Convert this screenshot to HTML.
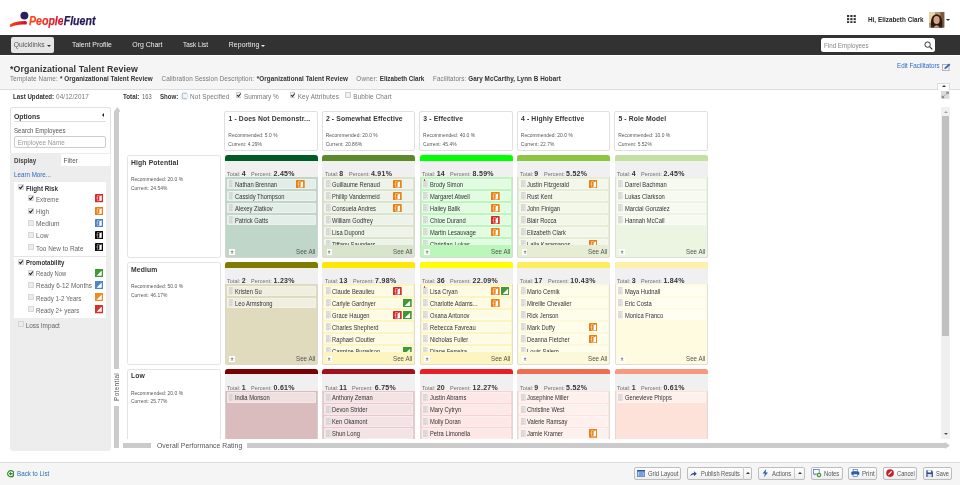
<!DOCTYPE html><html><head><meta charset="utf-8"><title>Organizational Talent Review</title><style>*{box-sizing:border-box;margin:0;padding:0}
html,body{width:960px;height:485px;overflow:hidden;background:#fff;font-family:"Liberation Sans",Arial,sans-serif;color:#333;position:relative}
.b,.t,.cell,.clip,.cbx,.ocb{position:absolute}
.t{white-space:nowrap}
.clip{overflow:hidden}
.cell{overflow:hidden;border-radius:3px;box-shadow:inset 0.7px 0 0 #d6d6d6,inset -0.7px 0 0 #d6d6d6,inset 0 -0.7px 0 #d6d6d6}
.cbx{width:5.8px;height:5.8px;border:0.7px solid #b5b5b5;background:#f4f4f4;border-radius:1px}
.cbx.on::after,.ocb.on::after{content:"";position:absolute;left:1.4px;top:-0.2px;width:1.7px;height:3.4px;border:solid #222;border-width:0 1px 1px 0;transform:rotate(40deg)}
.ocb{width:5.3px;height:5.6px;border:0.7px solid #c2c2c2;background:#eeeeee;border-radius:1px}
</style></head><body><svg class="b" style="left:9px;top:10px" width="20" height="19" viewBox="0 0 20 19">
  <defs><linearGradient id="sw" x1="0" x2="1"><stop offset="0" stop-color="#ff4a0c"/><stop offset="1" stop-color="#d2062e"/></linearGradient></defs>
  <circle cx="15.4" cy="5.6" r="3.95" fill="#2a1f5c"/>
  <path d="M1.3 14.2 C5 12 10 11 16.6 11 C18.3 11 18.3 14.6 16.8 14.6 C11 14 6 15 1.6 17 C0.6 17.2 0.5 14.8 1.3 14.2Z" fill="url(#sw)"/>
 </svg>
<div class="b" style="left:29.3px;top:14.7px;font-size:12.3px;font-weight:bold;font-style:italic;white-space:nowrap;line-height:12.3px;transform:scaleX(0.86);transform-origin:0 0;-webkit-text-stroke:0.25px currentColor"><span style="background:linear-gradient(90deg,#ff4a10,#d40c36);-webkit-background-clip:text;background-clip:text;color:transparent;-webkit-text-stroke:0.25px transparent">People</span><span style="color:#231a5a">Fluent</span></div>
<svg class="b" style="left:847px;top:14.8px" width="9" height="8.5" viewBox="0 0 9 8.5"><g fill="#333"><rect x="0.0" y="0.0" width="2.2" height="2.1"/><rect x="3.3" y="0.0" width="2.2" height="2.1"/><rect x="6.6" y="0.0" width="2.2" height="2.1"/><rect x="0.0" y="3.1" width="2.2" height="2.1"/><rect x="3.3" y="3.1" width="2.2" height="2.1"/><rect x="6.6" y="3.1" width="2.2" height="2.1"/><rect x="0.0" y="6.2" width="2.2" height="2.1"/><rect x="3.3" y="6.2" width="2.2" height="2.1"/><rect x="6.6" y="6.2" width="2.2" height="2.1"/></g></svg>
<div class="t" style="left:867.60px;top:15.87px;font-size:7.0px;line-height:7.0px;color:#2a2a2a;font-weight:bold;transform:scaleX(0.910);transform-origin:0 0;">Hi, Elizabeth Clark</div>
<svg class="b" style="left:929.3px;top:12.1px" width="15.3" height="15.5" viewBox="0 0 15.3 15.5">
  <rect width="15.3" height="15.5" fill="#b89572"/>
  <rect x="0" y="0" width="6" height="11" fill="#e6d2aa"/>
  <rect x="11.3" y="0" width="4" height="15.5" fill="#7a5b45"/>
  <path d="M2.2 15.5 C1.2 10 2 2.6 7.6 2.3 C13.2 2.6 14 10 13 15.5Z" fill="#2a1a12"/>
  <ellipse cx="7.6" cy="8" rx="3.1" ry="3.9" fill="#d3a289"/>
  <path d="M4.6 15.5 Q7.6 10.8 10.6 15.5Z" fill="#d09c86"/>
  <path d="M1 15.5 Q2.4 13.4 4.4 13.8 L5 15.5Z M10.2 15.5 L10.8 13.8 Q12.8 13.4 14.2 15.5Z" fill="#2a3040"/>
 </svg>
<div class="b" style="left:946px;top:19px;width:0px;height:0px;border-left:2px solid transparent;border-right:2px solid transparent;border-top:2.2px solid #333"></div>
<div class="b" style="left:0px;top:35px;width:960px;height:19.6px;background:#323232"></div>
<div class="b" style="left:11px;top:37px;width:43.4px;height:16px;background:#e6e6e6;border-radius:2px"></div>
<div class="t" style="left:13.70px;top:42.23px;font-size:6.7px;line-height:6.7px;color:#555;letter-spacing:0.052px;">Quicklinks</div>
<div class="b" style="left:46.6px;top:44.6px;width:0px;height:0px;border-left:2px solid transparent;border-right:2px solid transparent;border-top:2.2px solid #333"></div>
<div class="t" style="left:72.00px;top:42.06px;font-size:6.9px;line-height:6.9px;color:#eee;letter-spacing:0.009px;">Talent Profile</div>
<div class="t" style="left:132.30px;top:42.06px;font-size:6.9px;line-height:6.9px;color:#eee;letter-spacing:-0.012px;">Org Chart</div>
<div class="t" style="left:183.30px;top:42.06px;font-size:6.9px;line-height:6.9px;color:#eee;transform:scaleX(0.931);transform-origin:0 0;">Task List</div>
<div class="t" style="left:228.80px;top:42.06px;font-size:6.9px;line-height:6.9px;color:#eee;letter-spacing:0.085px;">Reporting</div>
<div class="b" style="left:260.6px;top:44.6px;width:0px;height:0px;border-left:2px solid transparent;border-right:2px solid transparent;border-top:2.2px solid #eee"></div>
<div class="b" style="left:820.8px;top:37.8px;width:113.9px;height:13.9px;background:#fff;border-radius:2.5px"></div>
<div class="t" style="left:824.20px;top:42.58px;font-size:6.4px;line-height:6.4px;color:#888;transform:scaleX(0.972);transform-origin:0 0;">Find Employees</div>
<svg class="b" style="left:924px;top:40.6px" width="9" height="9" viewBox="0 0 9 9"><circle cx="3.6" cy="3.6" r="2.7" fill="none" stroke="#333" stroke-width="1"/><path d="M5.6 5.6 L8.3 8.3" stroke="#333" stroke-width="1.2"/></svg>
<div class="b" style="left:0px;top:55.6px;width:960px;height:34.4px;background:#f5f5f5;border-bottom:1px solid #dcdcdc"></div>
<div class="t" style="left:10.00px;top:64.55px;font-size:8.8px;line-height:8.8px;color:#333;font-weight:bold;letter-spacing:0.106px;">*Organizational Talent Review</div>
<div class="t" style="left:10.00px;top:76.07px;font-size:6.3px;line-height:6.3px;color:#777;letter-spacing:0.141px;">Template Name:</div>
<div class="t" style="left:60.00px;top:76.07px;font-size:6.3px;line-height:6.3px;color:#333;font-weight:bold;letter-spacing:0.050px;">* Organizational Talent Review</div>
<div class="t" style="left:161.50px;top:76.07px;font-size:6.3px;line-height:6.3px;color:#777;letter-spacing:0.107px;">Calibration Session Description:</div>
<div class="t" style="left:256.80px;top:76.07px;font-size:6.3px;line-height:6.3px;color:#333;font-weight:bold;letter-spacing:0.057px;">*Organizational Talent Review</div>
<div class="t" style="left:356.30px;top:76.07px;font-size:6.3px;line-height:6.3px;color:#777;letter-spacing:0.199px;">Owner:</div>
<div class="t" style="left:379.80px;top:76.07px;font-size:6.3px;line-height:6.3px;color:#333;font-weight:bold;letter-spacing:-0.047px;">Elizabeth Clark</div>
<div class="t" style="left:433.00px;top:76.07px;font-size:6.3px;line-height:6.3px;color:#777;letter-spacing:0.091px;">Facilitators:</div>
<div class="t" style="left:468.20px;top:76.07px;font-size:6.3px;line-height:6.3px;color:#333;font-weight:bold;letter-spacing:0.062px;">Gary McCarthy, Lynn B Hobart</div>
<div class="t" style="left:897.30px;top:63.48px;font-size:6.4px;line-height:6.4px;color:#2a6cc8;transform:scaleX(0.976);transform-origin:0 0;">Edit Facilitators</div>
<svg class="b" style="left:942.3px;top:62.8px" width="9" height="8.2" viewBox="0 0 9 8.2"><rect x="0.45" y="1.5" width="6.6" height="6.2" fill="none" stroke="#a0a0a0" stroke-width="0.8"/><path d="M2.3 6.1 L2.8 4.5 L7 0.4 L8.4 1.7 L4.1 5.7Z" fill="#2c66d2"/></svg>
<div class="b" style="left:937.4px;top:83px;width:13px;height:6.6px;background:#fff;border:0.7px solid #ddd;border-bottom:none"></div>
<div class="b" style="left:941.8px;top:84.8px;width:0px;height:0px;border-left:2.2px solid transparent;border-right:2.2px solid transparent;border-bottom:2.6px solid #333"></div>
<svg class="b" style="left:941.4px;top:91.1px" width="8.4" height="7.9" viewBox="0 0 8.4 7.9"><rect width="8.4" height="7.9" fill="#dcdcdc"/><path d="M1.2 6.7L3.4 4.5M1.2 6.7V4.7M1.2 6.7H3.2M7.2 1.2L5 3.4M7.2 1.2V3.2M7.2 1.2H5.2" stroke="#777" stroke-width="0.9" fill="none"/></svg>
<div class="t" style="left:12.70px;top:94.08px;font-size:6.4px;line-height:6.4px;color:#333;font-weight:bold;transform:scaleX(0.966);transform-origin:0 0;">Last Updated:</div>
<div class="t" style="left:56.00px;top:94.08px;font-size:6.4px;line-height:6.4px;color:#777;letter-spacing:0.085px;">04/12/2017</div>
<div class="t" style="left:123.00px;top:94.08px;font-size:6.4px;line-height:6.4px;color:#333;font-weight:bold;transform:scaleX(0.968);transform-origin:0 0;">Total:</div>
<div class="t" style="left:142.10px;top:94.08px;font-size:6.4px;line-height:6.4px;color:#666;transform:scaleX(0.899);transform-origin:0 0;">163</div>
<div class="t" style="left:159.70px;top:94.08px;font-size:6.4px;line-height:6.4px;color:#333;font-weight:bold;transform:scaleX(0.953);transform-origin:0 0;">Show:</div>
<svg class="b" style="left:181.6px;top:92.7px;filter:drop-shadow(0 0 0.8px #8fb8ea);" width="5.9" height="5.9" viewBox="0 0 6 6"><rect x="0.35" y="0.35" width="5.3" height="5.3" rx="0.6" fill="#f2f2f2" stroke="#b0b0b0" stroke-width="0.7"/></svg>
<div class="t" style="left:190.00px;top:94.08px;font-size:6.4px;line-height:6.4px;color:#777;letter-spacing:0.111px;">Not Specified</div>
<svg class="b" style="left:235.6px;top:92.2px;" width="5.9" height="5.9" viewBox="0 0 6 6"><rect x="0.35" y="0.35" width="5.3" height="5.3" rx="0.6" fill="#f2f2f2" stroke="#b0b0b0" stroke-width="0.7"/><path d="M1.2 3.2 L2.5 4.6 L4.9 1.5" fill="none" stroke="#1e1e1e" stroke-width="1.05"/></svg>
<div class="t" style="left:244.00px;top:94.08px;font-size:6.4px;line-height:6.4px;color:#777;letter-spacing:-0.019px;">Summary %</div>
<svg class="b" style="left:289.6px;top:92.2px;" width="5.9" height="5.9" viewBox="0 0 6 6"><rect x="0.35" y="0.35" width="5.3" height="5.3" rx="0.6" fill="#f2f2f2" stroke="#b0b0b0" stroke-width="0.7"/><path d="M1.2 3.2 L2.5 4.6 L4.9 1.5" fill="none" stroke="#1e1e1e" stroke-width="1.05"/></svg>
<div class="t" style="left:297.70px;top:94.08px;font-size:6.4px;line-height:6.4px;color:#777;letter-spacing:0.132px;">Key Attributes</div>
<svg class="b" style="left:345.4px;top:92.2px;" width="5.9" height="5.9" viewBox="0 0 6 6"><rect x="0.35" y="0.35" width="5.3" height="5.3" rx="0.6" fill="#f2f2f2" stroke="#b0b0b0" stroke-width="0.7"/></svg>
<div class="t" style="left:353.30px;top:94.08px;font-size:6.4px;line-height:6.4px;color:#777;letter-spacing:0.095px;">Bubble Chart</div>
<div class="b" style="left:10px;top:107.3px;width:100.8px;height:344.2px;background:#ededed;border-radius:3px"></div>
<div class="b" style="left:10px;top:107.3px;width:100.8px;height:45.8px;background:#fff;border:0.7px solid #e2e2e2;border-bottom:none;border-radius:3px 3px 0 0"></div>
<div class="t" style="left:14.25px;top:113.27px;font-size:7px;line-height:7px;color:#333;font-weight:bold;transform:scaleX(0.983);transform-origin:0 0;">Options</div>
<div class="b" style="left:102.3px;top:113.3px;width:0px;height:0px;border-top:2.1px solid transparent;border-bottom:2.1px solid transparent;border-right:2.4px solid #222"></div>
<div class="b" style="left:14px;top:121.2px;width:91.6px;height:0.8px;background:#dedede"></div>
<div class="t" style="left:14.20px;top:127.97px;font-size:6.3px;line-height:6.3px;color:#555;transform:scaleX(0.974);transform-origin:0 0;">Search Employees</div>
<div class="b" style="left:14.2px;top:135.5px;width:92.2px;height:12.3px;background:#fff;border:0.7px solid #ccc;border-radius:2px"></div>
<div class="t" style="left:17.80px;top:139.57px;font-size:6.3px;line-height:6.3px;color:#999;letter-spacing:0.027px;">Employee Name</div>
<div class="t" style="left:14.10px;top:157.51px;font-size:6.6px;line-height:6.6px;color:#444;font-weight:bold;transform:scaleX(0.946);transform-origin:0 0;">Display</div>
<div class="b" style="left:60.8px;top:154px;width:49.2px;height:11.7px;background:#fff"></div>
<div class="t" style="left:63.50px;top:157.77px;font-size:6.3px;line-height:6.3px;color:#555;letter-spacing:0.060px;">Filter</div>
<div class="t" style="left:14.00px;top:172.00px;font-size:6.5px;line-height:6.5px;color:#2a6ebb;transform:scaleX(0.957);transform-origin:0 0;">Learn More...</div>
<div class="b" style="left:14.25px;top:181.6px;width:91.7px;height:74.3px;background:#fff"></div>
<div class="b" style="left:14.25px;top:255.9px;width:91.7px;height:1px;background:#e4e4e4"></div>
<div class="b" style="left:14.25px;top:256.9px;width:91.7px;height:61.2px;background:#fff"></div>
<svg class="b" style="left:18.3px;top:184.4px;" width="6.0" height="6.0" viewBox="0 0 6 6"><rect x="0.35" y="0.35" width="5.3" height="5.3" rx="0.6" fill="#ececec" stroke="#c4c4c4" stroke-width="0.7"/><path d="M1.2 3.2 L2.5 4.6 L4.9 1.5" fill="none" stroke="#1e1e1e" stroke-width="1.05"/></svg>
<div class="t" style="left:26.10px;top:185.71px;font-size:6.6px;line-height:6.6px;color:#333;font-weight:bold;transform:scaleX(0.946);transform-origin:0 0;">Flight Risk</div>
<svg class="b" style="left:18.3px;top:259.3px;" width="6.0" height="6.0" viewBox="0 0 6 6"><rect x="0.35" y="0.35" width="5.3" height="5.3" rx="0.6" fill="#ececec" stroke="#c4c4c4" stroke-width="0.7"/><path d="M1.2 3.2 L2.5 4.6 L4.9 1.5" fill="none" stroke="#1e1e1e" stroke-width="1.05"/></svg>
<div class="t" style="left:26.10px;top:259.91px;font-size:6.6px;line-height:6.6px;color:#333;font-weight:bold;transform:scaleX(0.913);transform-origin:0 0;">Promotability</div>
<svg class="b" style="left:28.3px;top:195.4px;" width="6.0" height="6.0" viewBox="0 0 6 6"><rect x="0.35" y="0.35" width="5.3" height="5.3" rx="0.6" fill="#ececec" stroke="#c4c4c4" stroke-width="0.7"/><path d="M1.2 3.2 L2.5 4.6 L4.9 1.5" fill="none" stroke="#1e1e1e" stroke-width="1.05"/></svg>
<div class="t" style="left:36.10px;top:196.76px;font-size:6.6px;line-height:6.6px;color:#666;transform:scaleX(0.928);transform-origin:0 0;">Extreme</div>
<svg class="b" style="left:94.60px;top:194.35px" width="8.3" height="8.3" viewBox="0 0 8 8"><rect width="8" height="8" rx="0.7" fill="#d8262b"/><path d="M4.5 1.4 H2.3 V6.6 H4.5" fill="none" stroke="rgba(255,255,255,0.5)" stroke-width="0.8"/><path d="M1 3.8 H3.3" stroke="rgba(255,255,255,0.5)" stroke-width="0.7"/><path d="M4.2 2.2 L6.5 1.1 V6.6 L4.2 6.8Z" fill="#fff"/></svg>
<svg class="b" style="left:28.3px;top:207.6px;" width="6.0" height="6.0" viewBox="0 0 6 6"><rect x="0.35" y="0.35" width="5.3" height="5.3" rx="0.6" fill="#ececec" stroke="#c4c4c4" stroke-width="0.7"/><path d="M1.2 3.2 L2.5 4.6 L4.9 1.5" fill="none" stroke="#1e1e1e" stroke-width="1.05"/></svg>
<div class="t" style="left:36.10px;top:208.96px;font-size:6.6px;line-height:6.6px;color:#666;transform:scaleX(0.958);transform-origin:0 0;">High</div>
<svg class="b" style="left:94.60px;top:206.55px" width="8.3" height="8.3" viewBox="0 0 8 8"><rect width="8" height="8" rx="0.7" fill="#ea7e10"/><path d="M4.5 1.4 H2.3 V6.6 H4.5" fill="none" stroke="rgba(255,255,255,0.5)" stroke-width="0.8"/><path d="M1 3.8 H3.3" stroke="rgba(255,255,255,0.5)" stroke-width="0.7"/><path d="M4.2 2.2 L6.5 1.1 V6.6 L4.2 6.8Z" fill="#fff"/></svg>
<svg class="b" style="left:28.3px;top:219.8px;" width="6.0" height="6.0" viewBox="0 0 6 6"><rect x="0.35" y="0.35" width="5.3" height="5.3" rx="0.6" fill="#ececec" stroke="#c4c4c4" stroke-width="0.7"/></svg>
<div class="t" style="left:36.10px;top:221.16px;font-size:6.6px;line-height:6.6px;color:#666;letter-spacing:0.005px;">Medium</div>
<svg class="b" style="left:94.60px;top:218.75px" width="8.3" height="8.3" viewBox="0 0 8 8"><rect width="8" height="8" rx="0.7" fill="#4a7fc1"/><path d="M4.5 1.4 H2.3 V6.6 H4.5" fill="none" stroke="rgba(255,255,255,0.5)" stroke-width="0.8"/><path d="M1 3.8 H3.3" stroke="rgba(255,255,255,0.5)" stroke-width="0.7"/><path d="M4.2 2.2 L6.5 1.1 V6.6 L4.2 6.8Z" fill="#fff"/></svg>
<svg class="b" style="left:28.3px;top:232.0px;" width="6.0" height="6.0" viewBox="0 0 6 6"><rect x="0.35" y="0.35" width="5.3" height="5.3" rx="0.6" fill="#ececec" stroke="#c4c4c4" stroke-width="0.7"/></svg>
<div class="t" style="left:36.10px;top:233.36px;font-size:6.6px;line-height:6.6px;color:#666;letter-spacing:0.196px;">Low</div>
<svg class="b" style="left:94.60px;top:230.95px" width="8.3" height="8.3" viewBox="0 0 8 8"><rect width="8" height="8" rx="0.7" fill="#0a0a0a"/><path d="M4.5 1.4 H2.3 V6.6 H4.5" fill="none" stroke="rgba(255,255,255,0.5)" stroke-width="0.8"/><path d="M1 3.8 H3.3" stroke="rgba(255,255,255,0.5)" stroke-width="0.7"/><path d="M4.2 2.2 L6.5 1.1 V6.6 L4.2 6.8Z" fill="#fff"/></svg>
<svg class="b" style="left:28.3px;top:244.20000000000002px;" width="6.0" height="6.0" viewBox="0 0 6 6"><rect x="0.35" y="0.35" width="5.3" height="5.3" rx="0.6" fill="#ececec" stroke="#c4c4c4" stroke-width="0.7"/></svg>
<div class="t" style="left:36.10px;top:245.56px;font-size:6.6px;line-height:6.6px;color:#666;transform:scaleX(0.974);transform-origin:0 0;">Too New to Rate</div>
<svg class="b" style="left:94.60px;top:243.15px" width="8.3" height="8.3" viewBox="0 0 8 8"><rect width="8" height="8" rx="0.7" fill="#0a0a0a"/><path d="M4.5 1.4 H2.3 V6.6 H4.5" fill="none" stroke="rgba(255,255,255,0.5)" stroke-width="0.8"/><path d="M1 3.8 H3.3" stroke="rgba(255,255,255,0.5)" stroke-width="0.7"/><path d="M4.2 2.2 L6.5 1.1 V6.6 L4.2 6.8Z" fill="#fff"/></svg>
<svg class="b" style="left:28.3px;top:269.84999999999997px;" width="6.0" height="6.0" viewBox="0 0 6 6"><rect x="0.35" y="0.35" width="5.3" height="5.3" rx="0.6" fill="#ececec" stroke="#c4c4c4" stroke-width="0.7"/><path d="M1.2 3.2 L2.5 4.6 L4.9 1.5" fill="none" stroke="#1e1e1e" stroke-width="1.05"/></svg>
<div class="t" style="left:36.10px;top:271.21px;font-size:6.6px;line-height:6.6px;color:#666;transform:scaleX(0.888);transform-origin:0 0;">Ready Now</div>
<svg class="b" style="left:94.60px;top:268.80px" width="8.3" height="8.3" viewBox="0 0 8 8"><rect width="8" height="8" fill="#3d9a35"/><path d="M1.5 6.5h5v-5z" fill="#fff"/></svg>
<svg class="b" style="left:28.3px;top:282.04999999999995px;" width="6.0" height="6.0" viewBox="0 0 6 6"><rect x="0.35" y="0.35" width="5.3" height="5.3" rx="0.6" fill="#ececec" stroke="#c4c4c4" stroke-width="0.7"/></svg>
<div class="t" style="left:36.10px;top:283.41px;font-size:6.6px;line-height:6.6px;color:#666;transform:scaleX(0.972);transform-origin:0 0;">Ready 6-12 Months</div>
<svg class="b" style="left:94.60px;top:281.00px" width="8.3" height="8.3" viewBox="0 0 8 8"><rect width="8" height="8" fill="#4a86c8"/><path d="M1.5 6.5h5v-5z" fill="#fff"/></svg>
<svg class="b" style="left:28.3px;top:294.24999999999994px;" width="6.0" height="6.0" viewBox="0 0 6 6"><rect x="0.35" y="0.35" width="5.3" height="5.3" rx="0.6" fill="#ececec" stroke="#c4c4c4" stroke-width="0.7"/></svg>
<div class="t" style="left:36.10px;top:295.61px;font-size:6.6px;line-height:6.6px;color:#666;transform:scaleX(0.932);transform-origin:0 0;">Ready 1-2 Years</div>
<svg class="b" style="left:94.60px;top:293.20px" width="8.3" height="8.3" viewBox="0 0 8 8"><rect width="8" height="8" fill="#ef8a1c"/><path d="M1.5 6.5h5v-5z" fill="#fff"/></svg>
<svg class="b" style="left:28.3px;top:306.44999999999993px;" width="6.0" height="6.0" viewBox="0 0 6 6"><rect x="0.35" y="0.35" width="5.3" height="5.3" rx="0.6" fill="#ececec" stroke="#c4c4c4" stroke-width="0.7"/></svg>
<div class="t" style="left:36.10px;top:307.81px;font-size:6.6px;line-height:6.6px;color:#666;transform:scaleX(0.937);transform-origin:0 0;">Ready 2+ years</div>
<svg class="b" style="left:94.60px;top:305.40px" width="8.3" height="8.3" viewBox="0 0 8 8"><rect width="8" height="8" fill="#d8302c"/><path d="M1.5 6.5h5v-5z" fill="#fff"/></svg>
<svg class="b" style="left:18.3px;top:321.4px;" width="6.0" height="6.0" viewBox="0 0 6 6"><rect x="0.35" y="0.35" width="5.3" height="5.3" rx="0.6" fill="#ececec" stroke="#c4c4c4" stroke-width="0.7"/></svg>
<div class="t" style="left:25.80px;top:322.68px;font-size:6.4px;line-height:6.4px;color:#666;letter-spacing:-0.040px;">Loss Impact</div>
<div class="b" style="left:114.4px;top:111px;width:4.8px;height:257.8px;background:#cbcbcb"></div>
<svg class="b" style="left:113.6px;top:106.8px" width="6.8" height="5" viewBox="0 0 6.8 5"><path d="M3.4 0 L6.8 4.8 L0 4.8Z" fill="#cbcbcb"/></svg>
<div class="b" style="left:114.4px;top:406.4px;width:4.8px;height:41.2px;background:#cbcbcb"></div>
<div class="t" style="left:113.6px;top:401.2px;font-size:6.5px;line-height:6.5px;color:#555;letter-spacing:0.313px;transform-origin:0 0;transform:rotate(-90deg)">Potential</div>
<div class="b" style="left:123px;top:443.2px;width:28.2px;height:4.6px;background:#cbcbcb"></div>
<div class="t" style="left:157.00px;top:442.94px;font-size:6.8px;line-height:6.8px;color:#555;letter-spacing:0.052px;">Overall Performance Rating</div>
<div class="b" style="left:247.4px;top:443.2px;width:698px;height:4.6px;background:#cbcbcb"></div>
<svg class="b" style="left:945px;top:441.9px" width="5" height="7" viewBox="0 0 5 7"><path d="M0 0 L4.9 3.5 L0 7Z" fill="#cbcbcb"/></svg>
<div class="clip" style="left:120px;top:100px;width:820px;height:338.6px"><div class="b" style="left:-120px;top:-100px;width:960px;height:485px"><div class="b" style="left:224.29999999999998px;top:111.4px;width:93.60000000000001px;height:39.5px;background:#fff;border:0.7px solid #e0e0e0;border-radius:2px"></div><div class="t" style="left:228.50px;top:115.84px;font-size:6.8px;line-height:6.8px;color:#333;font-weight:bold;letter-spacing:0.130px;">1 - Does Not Demonstr...</div><div class="t" style="left:228.30px;top:134.15px;font-size:4.9px;line-height:4.9px;color:#555;letter-spacing:0.050px;">Recommended: 5.0 %</div><div class="t" style="left:228.30px;top:143.05px;font-size:4.9px;line-height:4.9px;color:#555;letter-spacing:0.050px;">Current: 4.29%</div><div class="b" style="left:321.70000000000005px;top:111.4px;width:93.60000000000001px;height:39.5px;background:#fff;border:0.7px solid #e0e0e0;border-radius:2px"></div><div class="t" style="left:325.90px;top:115.84px;font-size:6.8px;line-height:6.8px;color:#333;font-weight:bold;letter-spacing:0.130px;">2 - Somewhat Effective</div><div class="t" style="left:325.70px;top:134.15px;font-size:4.9px;line-height:4.9px;color:#555;letter-spacing:0.050px;">Recommended: 20.0 %</div><div class="t" style="left:325.70px;top:143.05px;font-size:4.9px;line-height:4.9px;color:#555;letter-spacing:0.050px;">Current: 20.86%</div><div class="b" style="left:419.1px;top:111.4px;width:93.60000000000001px;height:39.5px;background:#fff;border:0.7px solid #e0e0e0;border-radius:2px"></div><div class="t" style="left:423.30px;top:115.84px;font-size:6.8px;line-height:6.8px;color:#333;font-weight:bold;letter-spacing:0.130px;">3 - Effective</div><div class="t" style="left:423.10px;top:134.15px;font-size:4.9px;line-height:4.9px;color:#555;letter-spacing:0.050px;">Recommended: 40.0 %</div><div class="t" style="left:423.10px;top:143.05px;font-size:4.9px;line-height:4.9px;color:#555;letter-spacing:0.050px;">Current: 45.4%</div><div class="b" style="left:516.8000000000001px;top:111.4px;width:93.60000000000001px;height:39.5px;background:#fff;border:0.7px solid #e0e0e0;border-radius:2px"></div><div class="t" style="left:521.00px;top:115.84px;font-size:6.8px;line-height:6.8px;color:#333;font-weight:bold;letter-spacing:0.130px;">4 - Highly Effective</div><div class="t" style="left:520.80px;top:134.15px;font-size:4.9px;line-height:4.9px;color:#555;letter-spacing:0.050px;">Recommended: 20.0 %</div><div class="t" style="left:520.80px;top:143.05px;font-size:4.9px;line-height:4.9px;color:#555;letter-spacing:0.050px;">Current: 22.7%</div><div class="b" style="left:614.2px;top:111.4px;width:93.60000000000001px;height:39.5px;background:#fff;border:0.7px solid #e0e0e0;border-radius:2px"></div><div class="t" style="left:618.40px;top:115.84px;font-size:6.8px;line-height:6.8px;color:#333;font-weight:bold;letter-spacing:0.130px;">5 - Role Model</div><div class="t" style="left:618.20px;top:134.15px;font-size:4.9px;line-height:4.9px;color:#555;letter-spacing:0.050px;">Recommended: 10.0 %</div><div class="t" style="left:618.20px;top:143.05px;font-size:4.9px;line-height:4.9px;color:#555;letter-spacing:0.050px;">Current: 5.52%</div><div class="b" style="left:127.4px;top:155.4px;width:93.6px;height:102.2px;background:#fff;border:0.7px solid #e3e3e3;border-radius:2.5px"></div><div class="t" style="left:131.00px;top:159.64px;font-size:6.8px;line-height:6.8px;color:#333;font-weight:bold;letter-spacing:0.130px;">High Potential</div><div class="t" style="left:131.00px;top:178.10px;font-size:4.9px;line-height:4.9px;color:#555;letter-spacing:0.050px;">Recommended: 20.0 %</div><div class="t" style="left:131.00px;top:186.85px;font-size:4.9px;line-height:4.9px;color:#555;letter-spacing:0.050px;">Current: 24.54%</div><div class="b" style="left:127.4px;top:262.4px;width:93.6px;height:102.2px;background:#fff;border:0.7px solid #e3e3e3;border-radius:2.5px"></div><div class="t" style="left:131.00px;top:266.64px;font-size:6.8px;line-height:6.8px;color:#333;font-weight:bold;letter-spacing:0.130px;">Medium</div><div class="t" style="left:131.00px;top:285.10px;font-size:4.9px;line-height:4.9px;color:#555;letter-spacing:0.050px;">Recommended: 50.0 %</div><div class="t" style="left:131.00px;top:293.85px;font-size:4.9px;line-height:4.9px;color:#555;letter-spacing:0.050px;">Current: 46.17%</div><div class="b" style="left:127.4px;top:369.0px;width:93.6px;height:102.2px;background:#fff;border:0.7px solid #e3e3e3;border-radius:2.5px"></div><div class="t" style="left:131.00px;top:373.24px;font-size:6.8px;line-height:6.8px;color:#333;font-weight:bold;letter-spacing:0.130px;">Low</div><div class="t" style="left:131.00px;top:391.70px;font-size:4.9px;line-height:4.9px;color:#555;letter-spacing:0.050px;">Recommended: 20.0 %</div><div class="t" style="left:131.00px;top:400.45px;font-size:4.9px;line-height:4.9px;color:#555;letter-spacing:0.050px;">Current: 25.77%</div><div class="cell" style="left:224.7px;top:155.4px;width:93.2px;height:102.2px;background:#c0d6c8"><div class="b" style="left:0px;top:0px;width:93.2px;height:5.3px;background:#005c24"></div><div class="b" style="left:0px;top:5.3px;width:93.2px;height:16.3px;background:#f0f0f0"></div><div class="t" style="left:2.50px;top:15.65px;font-size:6.2px;line-height:6.2px;color:#6e6e6e;transform:scaleX(0.900);transform-origin:0 0;">Total:</div><div class="t" style="left:17.14px;top:14.97px;font-size:7.0px;line-height:7.0px;color:#333;font-weight:bold;letter-spacing:0.300px;">4</div><div class="t" style="left:26.43px;top:15.65px;font-size:6.2px;line-height:6.2px;color:#6e6e6e;transform:scaleX(0.900);transform-origin:0 0;">Percent:</div><div class="t" style="left:48.81px;top:14.97px;font-size:7.0px;line-height:7.0px;color:#333;font-weight:bold;letter-spacing:0.300px;">2.45%</div><div class="clip" style="left:0;top:21.6px;width:100%;height:68.2px"><div class="b" style="left:2px;top:1.6px;width:89.1px;height:10.9px;background:#e4eee8;border:0.6px solid rgba(255,255,255,0.3);border-radius:1.2px"></div><svg class="b" style="left:3.90px;top:3.50px" width="4.8" height="7.2" viewBox="0 0 4.8 7.2"><g fill="#f2f2f2" stroke="#cdcdcd" stroke-width="0.5"><rect x="0.3" y="0.3" width="1.6" height="1.3"/><rect x="2.7" y="0.3" width="1.6" height="1.3"/><rect x="0.3" y="2.1" width="1.6" height="1.3"/><rect x="2.7" y="2.1" width="1.6" height="1.3"/><rect x="0.3" y="3.9" width="1.6" height="1.3"/><rect x="2.7" y="3.9" width="1.6" height="1.3"/><rect x="0.3" y="5.7" width="1.6" height="1.3"/><rect x="2.7" y="5.7" width="1.6" height="1.3"/></g></svg><div class="t" style="left:10.20px;top:4.74px;font-size:6.8px;line-height:6.8px;color:#333;transform:scaleX(0.850);transform-origin:0 0;">Nathan Brennan</div><svg class="b" style="left:71.40px;top:2.70px" width="8.7" height="8.7" viewBox="0 0 8 8"><rect width="8" height="8" rx="0.7" fill="#ea7e10"/><path d="M4.5 1.4 H2.3 V6.6 H4.5" fill="none" stroke="rgba(255,255,255,0.5)" stroke-width="0.8"/><path d="M1 3.8 H3.3" stroke="rgba(255,255,255,0.5)" stroke-width="0.7"/><path d="M4.2 2.2 L6.5 1.1 V6.6 L4.2 6.8Z" fill="#fff"/></svg><div class="b" style="left:2px;top:13.6px;width:89.1px;height:10.9px;background:#e4eee8;border:0.6px solid rgba(255,255,255,0.3);border-radius:1.2px"></div><svg class="b" style="left:3.90px;top:15.50px" width="4.8" height="7.2" viewBox="0 0 4.8 7.2"><g fill="#f2f2f2" stroke="#cdcdcd" stroke-width="0.5"><rect x="0.3" y="0.3" width="1.6" height="1.3"/><rect x="2.7" y="0.3" width="1.6" height="1.3"/><rect x="0.3" y="2.1" width="1.6" height="1.3"/><rect x="2.7" y="2.1" width="1.6" height="1.3"/><rect x="0.3" y="3.9" width="1.6" height="1.3"/><rect x="2.7" y="3.9" width="1.6" height="1.3"/><rect x="0.3" y="5.7" width="1.6" height="1.3"/><rect x="2.7" y="5.7" width="1.6" height="1.3"/></g></svg><div class="t" style="left:10.20px;top:16.74px;font-size:6.8px;line-height:6.8px;color:#333;transform:scaleX(0.850);transform-origin:0 0;">Cassidy Thompson</div><div class="b" style="left:2px;top:25.6px;width:89.1px;height:10.9px;background:#e4eee8;border:0.6px solid rgba(255,255,255,0.3);border-radius:1.2px"></div><svg class="b" style="left:3.90px;top:27.50px" width="4.8" height="7.2" viewBox="0 0 4.8 7.2"><g fill="#f2f2f2" stroke="#cdcdcd" stroke-width="0.5"><rect x="0.3" y="0.3" width="1.6" height="1.3"/><rect x="2.7" y="0.3" width="1.6" height="1.3"/><rect x="0.3" y="2.1" width="1.6" height="1.3"/><rect x="2.7" y="2.1" width="1.6" height="1.3"/><rect x="0.3" y="3.9" width="1.6" height="1.3"/><rect x="2.7" y="3.9" width="1.6" height="1.3"/><rect x="0.3" y="5.7" width="1.6" height="1.3"/><rect x="2.7" y="5.7" width="1.6" height="1.3"/></g></svg><div class="t" style="left:10.20px;top:28.74px;font-size:6.8px;line-height:6.8px;color:#333;transform:scaleX(0.850);transform-origin:0 0;">Alexey Zlatkov</div><div class="b" style="left:2px;top:37.6px;width:89.1px;height:10.9px;background:#e4eee8;border:0.6px solid rgba(255,255,255,0.3);border-radius:1.2px"></div><svg class="b" style="left:3.90px;top:39.50px" width="4.8" height="7.2" viewBox="0 0 4.8 7.2"><g fill="#f2f2f2" stroke="#cdcdcd" stroke-width="0.5"><rect x="0.3" y="0.3" width="1.6" height="1.3"/><rect x="2.7" y="0.3" width="1.6" height="1.3"/><rect x="0.3" y="2.1" width="1.6" height="1.3"/><rect x="2.7" y="2.1" width="1.6" height="1.3"/><rect x="0.3" y="3.9" width="1.6" height="1.3"/><rect x="2.7" y="3.9" width="1.6" height="1.3"/><rect x="0.3" y="5.7" width="1.6" height="1.3"/><rect x="2.7" y="5.7" width="1.6" height="1.3"/></g></svg><div class="t" style="left:10.20px;top:40.74px;font-size:6.8px;line-height:6.8px;color:#333;transform:scaleX(0.850);transform-origin:0 0;">Patrick Gatts</div></div><div class="b" style="left:4.6px;top:93.5px;width:5.7px;height:5.9px;background:#fff"></div><svg class="b" style="left:5.4px;top:94.3px" width="4.2" height="4.4" viewBox="0 0 4.2 4.4"><path d="M2.1 0.3L0.5 2.1H1.5V3.3H2.7V2.1H3.7Z M0.4 3.7H3.8V4.3H0.4Z" fill="#8a8a8a"/></svg><div class="t" style="left:71.20px;top:93.91px;font-size:6.6px;line-height:6.6px;color:#555;transform:scaleX(0.939);transform-origin:0 0;">See All</div></div><div class="cell" style="left:322.1px;top:155.4px;width:93.2px;height:102.2px;background:#d8e4cc"><div class="b" style="left:0px;top:0px;width:93.2px;height:5.3px;background:#5b8a2b"></div><div class="b" style="left:0px;top:5.3px;width:93.2px;height:16.3px;background:#f0f0f0"></div><div class="t" style="left:2.50px;top:15.65px;font-size:6.2px;line-height:6.2px;color:#6e6e6e;transform:scaleX(0.900);transform-origin:0 0;">Total:</div><div class="t" style="left:17.14px;top:14.97px;font-size:7.0px;line-height:7.0px;color:#333;font-weight:bold;letter-spacing:0.300px;">8</div><div class="t" style="left:26.43px;top:15.65px;font-size:6.2px;line-height:6.2px;color:#6e6e6e;transform:scaleX(0.900);transform-origin:0 0;">Percent:</div><div class="t" style="left:48.81px;top:14.97px;font-size:7.0px;line-height:7.0px;color:#333;font-weight:bold;letter-spacing:0.300px;">4.91%</div><div class="clip" style="left:0;top:21.6px;width:100%;height:68.2px"><div class="b" style="left:2px;top:1.6px;width:89.1px;height:10.9px;background:#edf3e8;border:0.6px solid rgba(255,255,255,0.3);border-radius:1.2px"></div><svg class="b" style="left:3.90px;top:3.50px" width="4.8" height="7.2" viewBox="0 0 4.8 7.2"><g fill="#f2f2f2" stroke="#cdcdcd" stroke-width="0.5"><rect x="0.3" y="0.3" width="1.6" height="1.3"/><rect x="2.7" y="0.3" width="1.6" height="1.3"/><rect x="0.3" y="2.1" width="1.6" height="1.3"/><rect x="2.7" y="2.1" width="1.6" height="1.3"/><rect x="0.3" y="3.9" width="1.6" height="1.3"/><rect x="2.7" y="3.9" width="1.6" height="1.3"/><rect x="0.3" y="5.7" width="1.6" height="1.3"/><rect x="2.7" y="5.7" width="1.6" height="1.3"/></g></svg><div class="t" style="left:10.20px;top:4.74px;font-size:6.8px;line-height:6.8px;color:#333;transform:scaleX(0.850);transform-origin:0 0;">Guillaume Renaud</div><svg class="b" style="left:71.40px;top:2.70px" width="8.7" height="8.7" viewBox="0 0 8 8"><rect width="8" height="8" rx="0.7" fill="#ea7e10"/><path d="M4.5 1.4 H2.3 V6.6 H4.5" fill="none" stroke="rgba(255,255,255,0.5)" stroke-width="0.8"/><path d="M1 3.8 H3.3" stroke="rgba(255,255,255,0.5)" stroke-width="0.7"/><path d="M4.2 2.2 L6.5 1.1 V6.6 L4.2 6.8Z" fill="#fff"/></svg><div class="b" style="left:2px;top:13.6px;width:89.1px;height:10.9px;background:#edf3e8;border:0.6px solid rgba(255,255,255,0.3);border-radius:1.2px"></div><svg class="b" style="left:3.90px;top:15.50px" width="4.8" height="7.2" viewBox="0 0 4.8 7.2"><g fill="#f2f2f2" stroke="#cdcdcd" stroke-width="0.5"><rect x="0.3" y="0.3" width="1.6" height="1.3"/><rect x="2.7" y="0.3" width="1.6" height="1.3"/><rect x="0.3" y="2.1" width="1.6" height="1.3"/><rect x="2.7" y="2.1" width="1.6" height="1.3"/><rect x="0.3" y="3.9" width="1.6" height="1.3"/><rect x="2.7" y="3.9" width="1.6" height="1.3"/><rect x="0.3" y="5.7" width="1.6" height="1.3"/><rect x="2.7" y="5.7" width="1.6" height="1.3"/></g></svg><div class="t" style="left:10.20px;top:16.74px;font-size:6.8px;line-height:6.8px;color:#333;transform:scaleX(0.850);transform-origin:0 0;">Phillip Vandermeid</div><svg class="b" style="left:71.40px;top:14.70px" width="8.7" height="8.7" viewBox="0 0 8 8"><rect width="8" height="8" rx="0.7" fill="#ea7e10"/><path d="M4.5 1.4 H2.3 V6.6 H4.5" fill="none" stroke="rgba(255,255,255,0.5)" stroke-width="0.8"/><path d="M1 3.8 H3.3" stroke="rgba(255,255,255,0.5)" stroke-width="0.7"/><path d="M4.2 2.2 L6.5 1.1 V6.6 L4.2 6.8Z" fill="#fff"/></svg><div class="b" style="left:2px;top:25.6px;width:89.1px;height:10.9px;background:#edf3e8;border:0.6px solid rgba(255,255,255,0.3);border-radius:1.2px"></div><svg class="b" style="left:3.90px;top:27.50px" width="4.8" height="7.2" viewBox="0 0 4.8 7.2"><g fill="#f2f2f2" stroke="#cdcdcd" stroke-width="0.5"><rect x="0.3" y="0.3" width="1.6" height="1.3"/><rect x="2.7" y="0.3" width="1.6" height="1.3"/><rect x="0.3" y="2.1" width="1.6" height="1.3"/><rect x="2.7" y="2.1" width="1.6" height="1.3"/><rect x="0.3" y="3.9" width="1.6" height="1.3"/><rect x="2.7" y="3.9" width="1.6" height="1.3"/><rect x="0.3" y="5.7" width="1.6" height="1.3"/><rect x="2.7" y="5.7" width="1.6" height="1.3"/></g></svg><div class="t" style="left:10.20px;top:28.74px;font-size:6.8px;line-height:6.8px;color:#333;transform:scaleX(0.850);transform-origin:0 0;">Consuela Andres</div><svg class="b" style="left:71.40px;top:26.70px" width="8.7" height="8.7" viewBox="0 0 8 8"><rect width="8" height="8" rx="0.7" fill="#ea7e10"/><path d="M4.5 1.4 H2.3 V6.6 H4.5" fill="none" stroke="rgba(255,255,255,0.5)" stroke-width="0.8"/><path d="M1 3.8 H3.3" stroke="rgba(255,255,255,0.5)" stroke-width="0.7"/><path d="M4.2 2.2 L6.5 1.1 V6.6 L4.2 6.8Z" fill="#fff"/></svg><div class="b" style="left:2px;top:37.6px;width:89.1px;height:10.9px;background:#edf3e8;border:0.6px solid rgba(255,255,255,0.3);border-radius:1.2px"></div><svg class="b" style="left:3.90px;top:39.50px" width="4.8" height="7.2" viewBox="0 0 4.8 7.2"><g fill="#f2f2f2" stroke="#cdcdcd" stroke-width="0.5"><rect x="0.3" y="0.3" width="1.6" height="1.3"/><rect x="2.7" y="0.3" width="1.6" height="1.3"/><rect x="0.3" y="2.1" width="1.6" height="1.3"/><rect x="2.7" y="2.1" width="1.6" height="1.3"/><rect x="0.3" y="3.9" width="1.6" height="1.3"/><rect x="2.7" y="3.9" width="1.6" height="1.3"/><rect x="0.3" y="5.7" width="1.6" height="1.3"/><rect x="2.7" y="5.7" width="1.6" height="1.3"/></g></svg><div class="t" style="left:10.20px;top:40.74px;font-size:6.8px;line-height:6.8px;color:#333;transform:scaleX(0.850);transform-origin:0 0;">William Godfrey</div><div class="b" style="left:2px;top:49.6px;width:89.1px;height:10.9px;background:#edf3e8;border:0.6px solid rgba(255,255,255,0.3);border-radius:1.2px"></div><svg class="b" style="left:3.90px;top:51.50px" width="4.8" height="7.2" viewBox="0 0 4.8 7.2"><g fill="#f2f2f2" stroke="#cdcdcd" stroke-width="0.5"><rect x="0.3" y="0.3" width="1.6" height="1.3"/><rect x="2.7" y="0.3" width="1.6" height="1.3"/><rect x="0.3" y="2.1" width="1.6" height="1.3"/><rect x="2.7" y="2.1" width="1.6" height="1.3"/><rect x="0.3" y="3.9" width="1.6" height="1.3"/><rect x="2.7" y="3.9" width="1.6" height="1.3"/><rect x="0.3" y="5.7" width="1.6" height="1.3"/><rect x="2.7" y="5.7" width="1.6" height="1.3"/></g></svg><div class="t" style="left:10.20px;top:52.74px;font-size:6.8px;line-height:6.8px;color:#333;transform:scaleX(0.850);transform-origin:0 0;">Lisa Dupond</div><div class="b" style="left:2px;top:61.6px;width:89.1px;height:10.9px;background:#edf3e8;border:0.6px solid rgba(255,255,255,0.3);border-radius:1.2px"></div><svg class="b" style="left:3.90px;top:63.50px" width="4.8" height="7.2" viewBox="0 0 4.8 7.2"><g fill="#f2f2f2" stroke="#cdcdcd" stroke-width="0.5"><rect x="0.3" y="0.3" width="1.6" height="1.3"/><rect x="2.7" y="0.3" width="1.6" height="1.3"/><rect x="0.3" y="2.1" width="1.6" height="1.3"/><rect x="2.7" y="2.1" width="1.6" height="1.3"/><rect x="0.3" y="3.9" width="1.6" height="1.3"/><rect x="2.7" y="3.9" width="1.6" height="1.3"/><rect x="0.3" y="5.7" width="1.6" height="1.3"/><rect x="2.7" y="5.7" width="1.6" height="1.3"/></g></svg><div class="t" style="left:10.20px;top:64.74px;font-size:6.8px;line-height:6.8px;color:#333;transform:scaleX(0.850);transform-origin:0 0;">Tiffany Saunders</div></div><div class="b" style="left:4.6px;top:93.5px;width:5.7px;height:5.9px;background:#fff"></div><svg class="b" style="left:5.4px;top:94.3px" width="4.2" height="4.4" viewBox="0 0 4.2 4.4"><path d="M2.1 0.3L0.5 2.1H1.5V3.3H2.7V2.1H3.7Z M0.4 3.7H3.8V4.3H0.4Z" fill="#8a8a8a"/></svg><div class="t" style="left:71.20px;top:93.91px;font-size:6.6px;line-height:6.6px;color:#555;transform:scaleX(0.939);transform-origin:0 0;">See All</div></div><div class="cell" style="left:419.5px;top:155.4px;width:93.2px;height:102.2px;background:#bbf6bb"><div class="b" style="left:0px;top:0px;width:93.2px;height:5.3px;background:#00ff00"></div><div class="b" style="left:0px;top:5.3px;width:93.2px;height:16.3px;background:#f0f0f0"></div><div class="t" style="left:2.50px;top:15.65px;font-size:6.2px;line-height:6.2px;color:#6e6e6e;transform:scaleX(0.900);transform-origin:0 0;">Total:</div><div class="t" style="left:17.14px;top:14.97px;font-size:7.0px;line-height:7.0px;color:#333;font-weight:bold;letter-spacing:0.300px;">14</div><div class="t" style="left:30.62px;top:15.65px;font-size:6.2px;line-height:6.2px;color:#6e6e6e;transform:scaleX(0.900);transform-origin:0 0;">Percent:</div><div class="t" style="left:53.00px;top:14.97px;font-size:7.0px;line-height:7.0px;color:#333;font-weight:bold;letter-spacing:0.300px;">8.59%</div><div class="clip" style="left:0;top:21.6px;width:100%;height:68.2px"><div class="b" style="left:2px;top:1.6px;width:89.1px;height:10.9px;background:#e2fce2;border:0.6px solid rgba(255,255,255,0.3);border-radius:1.2px"></div><svg class="b" style="left:3.90px;top:3.50px" width="4.8" height="7.2" viewBox="0 0 4.8 7.2"><g fill="#f2f2f2" stroke="#cdcdcd" stroke-width="0.5"><rect x="0.3" y="0.3" width="1.6" height="1.3"/><rect x="2.7" y="0.3" width="1.6" height="1.3"/><rect x="0.3" y="2.1" width="1.6" height="1.3"/><rect x="2.7" y="2.1" width="1.6" height="1.3"/><rect x="0.3" y="3.9" width="1.6" height="1.3"/><rect x="2.7" y="3.9" width="1.6" height="1.3"/><rect x="0.3" y="5.7" width="1.6" height="1.3"/><rect x="2.7" y="5.7" width="1.6" height="1.3"/></g></svg><div class="b" style="left:4.2px;top:2.5px;width:1.2px;height:1.2px;background:#d33;border-radius:50%"></div><div class="t" style="left:10.20px;top:4.74px;font-size:6.8px;line-height:6.8px;color:#333;transform:scaleX(0.850);transform-origin:0 0;">Brody Simon</div><div class="b" style="left:2px;top:13.6px;width:89.1px;height:10.9px;background:#e2fce2;border:0.6px solid rgba(255,255,255,0.3);border-radius:1.2px"></div><svg class="b" style="left:3.90px;top:15.50px" width="4.8" height="7.2" viewBox="0 0 4.8 7.2"><g fill="#f2f2f2" stroke="#cdcdcd" stroke-width="0.5"><rect x="0.3" y="0.3" width="1.6" height="1.3"/><rect x="2.7" y="0.3" width="1.6" height="1.3"/><rect x="0.3" y="2.1" width="1.6" height="1.3"/><rect x="2.7" y="2.1" width="1.6" height="1.3"/><rect x="0.3" y="3.9" width="1.6" height="1.3"/><rect x="2.7" y="3.9" width="1.6" height="1.3"/><rect x="0.3" y="5.7" width="1.6" height="1.3"/><rect x="2.7" y="5.7" width="1.6" height="1.3"/></g></svg><div class="t" style="left:10.20px;top:16.74px;font-size:6.8px;line-height:6.8px;color:#333;transform:scaleX(0.850);transform-origin:0 0;">Margaret Atwell</div><svg class="b" style="left:71.40px;top:14.70px" width="8.7" height="8.7" viewBox="0 0 8 8"><rect width="8" height="8" rx="0.7" fill="#ea7e10"/><path d="M4.5 1.4 H2.3 V6.6 H4.5" fill="none" stroke="rgba(255,255,255,0.5)" stroke-width="0.8"/><path d="M1 3.8 H3.3" stroke="rgba(255,255,255,0.5)" stroke-width="0.7"/><path d="M4.2 2.2 L6.5 1.1 V6.6 L4.2 6.8Z" fill="#fff"/></svg><div class="b" style="left:2px;top:25.6px;width:89.1px;height:10.9px;background:#e2fce2;border:0.6px solid rgba(255,255,255,0.3);border-radius:1.2px"></div><svg class="b" style="left:3.90px;top:27.50px" width="4.8" height="7.2" viewBox="0 0 4.8 7.2"><g fill="#f2f2f2" stroke="#cdcdcd" stroke-width="0.5"><rect x="0.3" y="0.3" width="1.6" height="1.3"/><rect x="2.7" y="0.3" width="1.6" height="1.3"/><rect x="0.3" y="2.1" width="1.6" height="1.3"/><rect x="2.7" y="2.1" width="1.6" height="1.3"/><rect x="0.3" y="3.9" width="1.6" height="1.3"/><rect x="2.7" y="3.9" width="1.6" height="1.3"/><rect x="0.3" y="5.7" width="1.6" height="1.3"/><rect x="2.7" y="5.7" width="1.6" height="1.3"/></g></svg><div class="t" style="left:10.20px;top:28.74px;font-size:6.8px;line-height:6.8px;color:#333;transform:scaleX(0.850);transform-origin:0 0;">Hailey Balik</div><svg class="b" style="left:71.40px;top:26.70px" width="8.7" height="8.7" viewBox="0 0 8 8"><rect width="8" height="8" rx="0.7" fill="#ea7e10"/><path d="M4.5 1.4 H2.3 V6.6 H4.5" fill="none" stroke="rgba(255,255,255,0.5)" stroke-width="0.8"/><path d="M1 3.8 H3.3" stroke="rgba(255,255,255,0.5)" stroke-width="0.7"/><path d="M4.2 2.2 L6.5 1.1 V6.6 L4.2 6.8Z" fill="#fff"/></svg><div class="b" style="left:2px;top:37.6px;width:89.1px;height:10.9px;background:#e2fce2;border:0.6px solid rgba(255,255,255,0.3);border-radius:1.2px"></div><svg class="b" style="left:3.90px;top:39.50px" width="4.8" height="7.2" viewBox="0 0 4.8 7.2"><g fill="#f2f2f2" stroke="#cdcdcd" stroke-width="0.5"><rect x="0.3" y="0.3" width="1.6" height="1.3"/><rect x="2.7" y="0.3" width="1.6" height="1.3"/><rect x="0.3" y="2.1" width="1.6" height="1.3"/><rect x="2.7" y="2.1" width="1.6" height="1.3"/><rect x="0.3" y="3.9" width="1.6" height="1.3"/><rect x="2.7" y="3.9" width="1.6" height="1.3"/><rect x="0.3" y="5.7" width="1.6" height="1.3"/><rect x="2.7" y="5.7" width="1.6" height="1.3"/></g></svg><div class="t" style="left:10.20px;top:40.74px;font-size:6.8px;line-height:6.8px;color:#333;transform:scaleX(0.850);transform-origin:0 0;">Chloe Durand</div><svg class="b" style="left:71.40px;top:38.70px" width="8.7" height="8.7" viewBox="0 0 8 8"><rect width="8" height="8" rx="0.7" fill="#d8262b"/><path d="M4.5 1.4 H2.3 V6.6 H4.5" fill="none" stroke="rgba(255,255,255,0.5)" stroke-width="0.8"/><path d="M1 3.8 H3.3" stroke="rgba(255,255,255,0.5)" stroke-width="0.7"/><path d="M4.2 2.2 L6.5 1.1 V6.6 L4.2 6.8Z" fill="#fff"/></svg><div class="b" style="left:2px;top:49.6px;width:89.1px;height:10.9px;background:#e2fce2;border:0.6px solid rgba(255,255,255,0.3);border-radius:1.2px"></div><svg class="b" style="left:3.90px;top:51.50px" width="4.8" height="7.2" viewBox="0 0 4.8 7.2"><g fill="#f2f2f2" stroke="#cdcdcd" stroke-width="0.5"><rect x="0.3" y="0.3" width="1.6" height="1.3"/><rect x="2.7" y="0.3" width="1.6" height="1.3"/><rect x="0.3" y="2.1" width="1.6" height="1.3"/><rect x="2.7" y="2.1" width="1.6" height="1.3"/><rect x="0.3" y="3.9" width="1.6" height="1.3"/><rect x="2.7" y="3.9" width="1.6" height="1.3"/><rect x="0.3" y="5.7" width="1.6" height="1.3"/><rect x="2.7" y="5.7" width="1.6" height="1.3"/></g></svg><div class="t" style="left:10.20px;top:52.74px;font-size:6.8px;line-height:6.8px;color:#333;transform:scaleX(0.850);transform-origin:0 0;">Martin Lesauvage</div><svg class="b" style="left:71.40px;top:50.70px" width="8.7" height="8.7" viewBox="0 0 8 8"><rect width="8" height="8" rx="0.7" fill="#ea7e10"/><path d="M4.5 1.4 H2.3 V6.6 H4.5" fill="none" stroke="rgba(255,255,255,0.5)" stroke-width="0.8"/><path d="M1 3.8 H3.3" stroke="rgba(255,255,255,0.5)" stroke-width="0.7"/><path d="M4.2 2.2 L6.5 1.1 V6.6 L4.2 6.8Z" fill="#fff"/></svg><div class="b" style="left:2px;top:61.6px;width:89.1px;height:10.9px;background:#e2fce2;border:0.6px solid rgba(255,255,255,0.3);border-radius:1.2px"></div><svg class="b" style="left:3.90px;top:63.50px" width="4.8" height="7.2" viewBox="0 0 4.8 7.2"><g fill="#f2f2f2" stroke="#cdcdcd" stroke-width="0.5"><rect x="0.3" y="0.3" width="1.6" height="1.3"/><rect x="2.7" y="0.3" width="1.6" height="1.3"/><rect x="0.3" y="2.1" width="1.6" height="1.3"/><rect x="2.7" y="2.1" width="1.6" height="1.3"/><rect x="0.3" y="3.9" width="1.6" height="1.3"/><rect x="2.7" y="3.9" width="1.6" height="1.3"/><rect x="0.3" y="5.7" width="1.6" height="1.3"/><rect x="2.7" y="5.7" width="1.6" height="1.3"/></g></svg><div class="t" style="left:10.20px;top:64.74px;font-size:6.8px;line-height:6.8px;color:#333;transform:scaleX(0.850);transform-origin:0 0;">Christian Lukas</div></div><div class="b" style="left:4.6px;top:93.5px;width:5.7px;height:5.9px;background:#fff"></div><svg class="b" style="left:5.4px;top:94.3px" width="4.2" height="4.4" viewBox="0 0 4.2 4.4"><path d="M2.1 0.3L0.5 2.1H1.5V3.3H2.7V2.1H3.7Z M0.4 3.7H3.8V4.3H0.4Z" fill="#8a8a8a"/></svg><div class="t" style="left:71.20px;top:93.91px;font-size:6.6px;line-height:6.6px;color:#555;transform:scaleX(0.939);transform-origin:0 0;">See All</div></div><div class="cell" style="left:517.2px;top:155.4px;width:93.2px;height:102.2px;background:#e5eed3"><div class="b" style="left:0px;top:0px;width:93.2px;height:5.3px;background:#8cc540"></div><div class="b" style="left:0px;top:5.3px;width:93.2px;height:16.3px;background:#f0f0f0"></div><div class="t" style="left:2.50px;top:15.65px;font-size:6.2px;line-height:6.2px;color:#6e6e6e;transform:scaleX(0.900);transform-origin:0 0;">Total:</div><div class="t" style="left:17.14px;top:14.97px;font-size:7.0px;line-height:7.0px;color:#333;font-weight:bold;letter-spacing:0.300px;">9</div><div class="t" style="left:26.43px;top:15.65px;font-size:6.2px;line-height:6.2px;color:#6e6e6e;transform:scaleX(0.900);transform-origin:0 0;">Percent:</div><div class="t" style="left:48.81px;top:14.97px;font-size:7.0px;line-height:7.0px;color:#333;font-weight:bold;letter-spacing:0.300px;">5.52%</div><div class="clip" style="left:0;top:21.6px;width:100%;height:68.2px"><div class="b" style="left:2px;top:1.6px;width:89.1px;height:10.9px;background:#f3f7ea;border:0.6px solid rgba(255,255,255,0.3);border-radius:1.2px"></div><svg class="b" style="left:3.90px;top:3.50px" width="4.8" height="7.2" viewBox="0 0 4.8 7.2"><g fill="#f2f2f2" stroke="#cdcdcd" stroke-width="0.5"><rect x="0.3" y="0.3" width="1.6" height="1.3"/><rect x="2.7" y="0.3" width="1.6" height="1.3"/><rect x="0.3" y="2.1" width="1.6" height="1.3"/><rect x="2.7" y="2.1" width="1.6" height="1.3"/><rect x="0.3" y="3.9" width="1.6" height="1.3"/><rect x="2.7" y="3.9" width="1.6" height="1.3"/><rect x="0.3" y="5.7" width="1.6" height="1.3"/><rect x="2.7" y="5.7" width="1.6" height="1.3"/></g></svg><div class="t" style="left:10.20px;top:4.74px;font-size:6.8px;line-height:6.8px;color:#333;transform:scaleX(0.850);transform-origin:0 0;">Justin Fitzgerald</div><svg class="b" style="left:71.40px;top:2.70px" width="8.7" height="8.7" viewBox="0 0 8 8"><rect width="8" height="8" rx="0.7" fill="#ea7e10"/><path d="M4.5 1.4 H2.3 V6.6 H4.5" fill="none" stroke="rgba(255,255,255,0.5)" stroke-width="0.8"/><path d="M1 3.8 H3.3" stroke="rgba(255,255,255,0.5)" stroke-width="0.7"/><path d="M4.2 2.2 L6.5 1.1 V6.6 L4.2 6.8Z" fill="#fff"/></svg><div class="b" style="left:2px;top:13.6px;width:89.1px;height:10.9px;background:#f3f7ea;border:0.6px solid rgba(255,255,255,0.3);border-radius:1.2px"></div><svg class="b" style="left:3.90px;top:15.50px" width="4.8" height="7.2" viewBox="0 0 4.8 7.2"><g fill="#f2f2f2" stroke="#cdcdcd" stroke-width="0.5"><rect x="0.3" y="0.3" width="1.6" height="1.3"/><rect x="2.7" y="0.3" width="1.6" height="1.3"/><rect x="0.3" y="2.1" width="1.6" height="1.3"/><rect x="2.7" y="2.1" width="1.6" height="1.3"/><rect x="0.3" y="3.9" width="1.6" height="1.3"/><rect x="2.7" y="3.9" width="1.6" height="1.3"/><rect x="0.3" y="5.7" width="1.6" height="1.3"/><rect x="2.7" y="5.7" width="1.6" height="1.3"/></g></svg><div class="t" style="left:10.20px;top:16.74px;font-size:6.8px;line-height:6.8px;color:#333;transform:scaleX(0.850);transform-origin:0 0;">Rust Kent</div><div class="b" style="left:2px;top:25.6px;width:89.1px;height:10.9px;background:#f3f7ea;border:0.6px solid rgba(255,255,255,0.3);border-radius:1.2px"></div><svg class="b" style="left:3.90px;top:27.50px" width="4.8" height="7.2" viewBox="0 0 4.8 7.2"><g fill="#f2f2f2" stroke="#cdcdcd" stroke-width="0.5"><rect x="0.3" y="0.3" width="1.6" height="1.3"/><rect x="2.7" y="0.3" width="1.6" height="1.3"/><rect x="0.3" y="2.1" width="1.6" height="1.3"/><rect x="2.7" y="2.1" width="1.6" height="1.3"/><rect x="0.3" y="3.9" width="1.6" height="1.3"/><rect x="2.7" y="3.9" width="1.6" height="1.3"/><rect x="0.3" y="5.7" width="1.6" height="1.3"/><rect x="2.7" y="5.7" width="1.6" height="1.3"/></g></svg><div class="t" style="left:10.20px;top:28.74px;font-size:6.8px;line-height:6.8px;color:#333;transform:scaleX(0.850);transform-origin:0 0;">John Finigan</div><div class="b" style="left:2px;top:37.6px;width:89.1px;height:10.9px;background:#f3f7ea;border:0.6px solid rgba(255,255,255,0.3);border-radius:1.2px"></div><svg class="b" style="left:3.90px;top:39.50px" width="4.8" height="7.2" viewBox="0 0 4.8 7.2"><g fill="#f2f2f2" stroke="#cdcdcd" stroke-width="0.5"><rect x="0.3" y="0.3" width="1.6" height="1.3"/><rect x="2.7" y="0.3" width="1.6" height="1.3"/><rect x="0.3" y="2.1" width="1.6" height="1.3"/><rect x="2.7" y="2.1" width="1.6" height="1.3"/><rect x="0.3" y="3.9" width="1.6" height="1.3"/><rect x="2.7" y="3.9" width="1.6" height="1.3"/><rect x="0.3" y="5.7" width="1.6" height="1.3"/><rect x="2.7" y="5.7" width="1.6" height="1.3"/></g></svg><div class="t" style="left:10.20px;top:40.74px;font-size:6.8px;line-height:6.8px;color:#333;transform:scaleX(0.850);transform-origin:0 0;">Blair Rocca</div><div class="b" style="left:2px;top:49.6px;width:89.1px;height:10.9px;background:#f3f7ea;border:0.6px solid rgba(255,255,255,0.3);border-radius:1.2px"></div><svg class="b" style="left:3.90px;top:51.50px" width="4.8" height="7.2" viewBox="0 0 4.8 7.2"><g fill="#f2f2f2" stroke="#cdcdcd" stroke-width="0.5"><rect x="0.3" y="0.3" width="1.6" height="1.3"/><rect x="2.7" y="0.3" width="1.6" height="1.3"/><rect x="0.3" y="2.1" width="1.6" height="1.3"/><rect x="2.7" y="2.1" width="1.6" height="1.3"/><rect x="0.3" y="3.9" width="1.6" height="1.3"/><rect x="2.7" y="3.9" width="1.6" height="1.3"/><rect x="0.3" y="5.7" width="1.6" height="1.3"/><rect x="2.7" y="5.7" width="1.6" height="1.3"/></g></svg><div class="t" style="left:10.20px;top:52.74px;font-size:6.8px;line-height:6.8px;color:#333;transform:scaleX(0.850);transform-origin:0 0;">Elizabeth Clark</div><div class="b" style="left:2px;top:61.6px;width:89.1px;height:10.9px;background:#f3f7ea;border:0.6px solid rgba(255,255,255,0.3);border-radius:1.2px"></div><svg class="b" style="left:3.90px;top:63.50px" width="4.8" height="7.2" viewBox="0 0 4.8 7.2"><g fill="#f2f2f2" stroke="#cdcdcd" stroke-width="0.5"><rect x="0.3" y="0.3" width="1.6" height="1.3"/><rect x="2.7" y="0.3" width="1.6" height="1.3"/><rect x="0.3" y="2.1" width="1.6" height="1.3"/><rect x="2.7" y="2.1" width="1.6" height="1.3"/><rect x="0.3" y="3.9" width="1.6" height="1.3"/><rect x="2.7" y="3.9" width="1.6" height="1.3"/><rect x="0.3" y="5.7" width="1.6" height="1.3"/><rect x="2.7" y="5.7" width="1.6" height="1.3"/></g></svg><div class="t" style="left:10.20px;top:64.74px;font-size:6.8px;line-height:6.8px;color:#333;transform:scaleX(0.850);transform-origin:0 0;">Lalia Karamanos</div><svg class="b" style="left:71.40px;top:62.70px" width="8.7" height="8.7" viewBox="0 0 8 8"><rect width="8" height="8" rx="0.7" fill="#ea7e10"/><path d="M4.5 1.4 H2.3 V6.6 H4.5" fill="none" stroke="rgba(255,255,255,0.5)" stroke-width="0.8"/><path d="M1 3.8 H3.3" stroke="rgba(255,255,255,0.5)" stroke-width="0.7"/><path d="M4.2 2.2 L6.5 1.1 V6.6 L4.2 6.8Z" fill="#fff"/></svg></div><div class="b" style="left:4.6px;top:93.5px;width:5.7px;height:5.9px;background:#fff"></div><svg class="b" style="left:5.4px;top:94.3px" width="4.2" height="4.4" viewBox="0 0 4.2 4.4"><path d="M2.1 0.3L0.5 2.1H1.5V3.3H2.7V2.1H3.7Z M0.4 3.7H3.8V4.3H0.4Z" fill="#8a8a8a"/></svg><div class="t" style="left:71.20px;top:93.91px;font-size:6.6px;line-height:6.6px;color:#555;transform:scaleX(0.939);transform-origin:0 0;">See All</div></div><div class="cell" style="left:614.6px;top:155.4px;width:93.2px;height:102.2px;background:#ecf4e2"><div class="b" style="left:0px;top:0px;width:93.2px;height:5.3px;background:#c4e0a0"></div><div class="b" style="left:0px;top:5.3px;width:93.2px;height:16.3px;background:#f0f0f0"></div><div class="t" style="left:2.50px;top:15.65px;font-size:6.2px;line-height:6.2px;color:#6e6e6e;transform:scaleX(0.900);transform-origin:0 0;">Total:</div><div class="t" style="left:17.14px;top:14.97px;font-size:7.0px;line-height:7.0px;color:#333;font-weight:bold;letter-spacing:0.300px;">4</div><div class="t" style="left:26.43px;top:15.65px;font-size:6.2px;line-height:6.2px;color:#6e6e6e;transform:scaleX(0.900);transform-origin:0 0;">Percent:</div><div class="t" style="left:48.81px;top:14.97px;font-size:7.0px;line-height:7.0px;color:#333;font-weight:bold;letter-spacing:0.300px;">2.45%</div><div class="clip" style="left:0;top:21.6px;width:100%;height:68.2px"><div class="b" style="left:2px;top:1.6px;width:89.1px;height:10.9px;background:#f6faf1;border:0.6px solid rgba(255,255,255,0.3);border-radius:1.2px"></div><svg class="b" style="left:3.90px;top:3.50px" width="4.8" height="7.2" viewBox="0 0 4.8 7.2"><g fill="#f2f2f2" stroke="#cdcdcd" stroke-width="0.5"><rect x="0.3" y="0.3" width="1.6" height="1.3"/><rect x="2.7" y="0.3" width="1.6" height="1.3"/><rect x="0.3" y="2.1" width="1.6" height="1.3"/><rect x="2.7" y="2.1" width="1.6" height="1.3"/><rect x="0.3" y="3.9" width="1.6" height="1.3"/><rect x="2.7" y="3.9" width="1.6" height="1.3"/><rect x="0.3" y="5.7" width="1.6" height="1.3"/><rect x="2.7" y="5.7" width="1.6" height="1.3"/></g></svg><div class="t" style="left:10.20px;top:4.74px;font-size:6.8px;line-height:6.8px;color:#333;transform:scaleX(0.850);transform-origin:0 0;">Darrel Bachman</div><div class="b" style="left:2px;top:13.6px;width:89.1px;height:10.9px;background:#f6faf1;border:0.6px solid rgba(255,255,255,0.3);border-radius:1.2px"></div><svg class="b" style="left:3.90px;top:15.50px" width="4.8" height="7.2" viewBox="0 0 4.8 7.2"><g fill="#f2f2f2" stroke="#cdcdcd" stroke-width="0.5"><rect x="0.3" y="0.3" width="1.6" height="1.3"/><rect x="2.7" y="0.3" width="1.6" height="1.3"/><rect x="0.3" y="2.1" width="1.6" height="1.3"/><rect x="2.7" y="2.1" width="1.6" height="1.3"/><rect x="0.3" y="3.9" width="1.6" height="1.3"/><rect x="2.7" y="3.9" width="1.6" height="1.3"/><rect x="0.3" y="5.7" width="1.6" height="1.3"/><rect x="2.7" y="5.7" width="1.6" height="1.3"/></g></svg><div class="t" style="left:10.20px;top:16.74px;font-size:6.8px;line-height:6.8px;color:#333;transform:scaleX(0.850);transform-origin:0 0;">Lukas Clarkson</div><div class="b" style="left:2px;top:25.6px;width:89.1px;height:10.9px;background:#f6faf1;border:0.6px solid rgba(255,255,255,0.3);border-radius:1.2px"></div><svg class="b" style="left:3.90px;top:27.50px" width="4.8" height="7.2" viewBox="0 0 4.8 7.2"><g fill="#f2f2f2" stroke="#cdcdcd" stroke-width="0.5"><rect x="0.3" y="0.3" width="1.6" height="1.3"/><rect x="2.7" y="0.3" width="1.6" height="1.3"/><rect x="0.3" y="2.1" width="1.6" height="1.3"/><rect x="2.7" y="2.1" width="1.6" height="1.3"/><rect x="0.3" y="3.9" width="1.6" height="1.3"/><rect x="2.7" y="3.9" width="1.6" height="1.3"/><rect x="0.3" y="5.7" width="1.6" height="1.3"/><rect x="2.7" y="5.7" width="1.6" height="1.3"/></g></svg><div class="t" style="left:10.20px;top:28.74px;font-size:6.8px;line-height:6.8px;color:#333;transform:scaleX(0.850);transform-origin:0 0;">Marcial Gonzalez</div><div class="b" style="left:2px;top:37.6px;width:89.1px;height:10.9px;background:#f6faf1;border:0.6px solid rgba(255,255,255,0.3);border-radius:1.2px"></div><svg class="b" style="left:3.90px;top:39.50px" width="4.8" height="7.2" viewBox="0 0 4.8 7.2"><g fill="#f2f2f2" stroke="#cdcdcd" stroke-width="0.5"><rect x="0.3" y="0.3" width="1.6" height="1.3"/><rect x="2.7" y="0.3" width="1.6" height="1.3"/><rect x="0.3" y="2.1" width="1.6" height="1.3"/><rect x="2.7" y="2.1" width="1.6" height="1.3"/><rect x="0.3" y="3.9" width="1.6" height="1.3"/><rect x="2.7" y="3.9" width="1.6" height="1.3"/><rect x="0.3" y="5.7" width="1.6" height="1.3"/><rect x="2.7" y="5.7" width="1.6" height="1.3"/></g></svg><div class="t" style="left:10.20px;top:40.74px;font-size:6.8px;line-height:6.8px;color:#333;transform:scaleX(0.850);transform-origin:0 0;">Hannah McCall</div></div><div class="b" style="left:4.6px;top:93.5px;width:5.7px;height:5.9px;background:#fff"></div><svg class="b" style="left:5.4px;top:94.3px" width="4.2" height="4.4" viewBox="0 0 4.2 4.4"><path d="M2.1 0.3L0.5 2.1H1.5V3.3H2.7V2.1H3.7Z M0.4 3.7H3.8V4.3H0.4Z" fill="#8a8a8a"/></svg><div class="t" style="left:71.20px;top:93.91px;font-size:6.6px;line-height:6.6px;color:#555;transform:scaleX(0.939);transform-origin:0 0;">See All</div></div><div class="cell" style="left:224.7px;top:262.4px;width:93.2px;height:102.2px;background:#dfdbbc"><div class="b" style="left:0px;top:0px;width:93.2px;height:5.3px;background:#7f7b00"></div><div class="b" style="left:0px;top:5.3px;width:93.2px;height:16.3px;background:#f0f0f0"></div><div class="t" style="left:2.50px;top:15.65px;font-size:6.2px;line-height:6.2px;color:#6e6e6e;transform:scaleX(0.900);transform-origin:0 0;">Total:</div><div class="t" style="left:17.14px;top:14.97px;font-size:7.0px;line-height:7.0px;color:#333;font-weight:bold;letter-spacing:0.300px;">2</div><div class="t" style="left:26.43px;top:15.65px;font-size:6.2px;line-height:6.2px;color:#6e6e6e;transform:scaleX(0.900);transform-origin:0 0;">Percent:</div><div class="t" style="left:48.81px;top:14.97px;font-size:7.0px;line-height:7.0px;color:#333;font-weight:bold;letter-spacing:0.300px;">1.23%</div><div class="clip" style="left:0;top:21.6px;width:100%;height:68.2px"><div class="b" style="left:2px;top:1.6px;width:89.1px;height:10.9px;background:#f0eee0;border:0.6px solid rgba(255,255,255,0.3);border-radius:1.2px"></div><svg class="b" style="left:3.90px;top:3.50px" width="4.8" height="7.2" viewBox="0 0 4.8 7.2"><g fill="#f2f2f2" stroke="#cdcdcd" stroke-width="0.5"><rect x="0.3" y="0.3" width="1.6" height="1.3"/><rect x="2.7" y="0.3" width="1.6" height="1.3"/><rect x="0.3" y="2.1" width="1.6" height="1.3"/><rect x="2.7" y="2.1" width="1.6" height="1.3"/><rect x="0.3" y="3.9" width="1.6" height="1.3"/><rect x="2.7" y="3.9" width="1.6" height="1.3"/><rect x="0.3" y="5.7" width="1.6" height="1.3"/><rect x="2.7" y="5.7" width="1.6" height="1.3"/></g></svg><div class="t" style="left:10.20px;top:4.74px;font-size:6.8px;line-height:6.8px;color:#333;transform:scaleX(0.850);transform-origin:0 0;">Kristen Su</div><div class="b" style="left:2px;top:13.6px;width:89.1px;height:10.9px;background:#f0eee0;border:0.6px solid rgba(255,255,255,0.3);border-radius:1.2px"></div><svg class="b" style="left:3.90px;top:15.50px" width="4.8" height="7.2" viewBox="0 0 4.8 7.2"><g fill="#f2f2f2" stroke="#cdcdcd" stroke-width="0.5"><rect x="0.3" y="0.3" width="1.6" height="1.3"/><rect x="2.7" y="0.3" width="1.6" height="1.3"/><rect x="0.3" y="2.1" width="1.6" height="1.3"/><rect x="2.7" y="2.1" width="1.6" height="1.3"/><rect x="0.3" y="3.9" width="1.6" height="1.3"/><rect x="2.7" y="3.9" width="1.6" height="1.3"/><rect x="0.3" y="5.7" width="1.6" height="1.3"/><rect x="2.7" y="5.7" width="1.6" height="1.3"/></g></svg><div class="t" style="left:10.20px;top:16.74px;font-size:6.8px;line-height:6.8px;color:#333;transform:scaleX(0.850);transform-origin:0 0;">Leo Armstrong</div></div><div class="b" style="left:4.6px;top:93.5px;width:5.7px;height:5.9px;background:#fff"></div><svg class="b" style="left:5.4px;top:94.3px" width="4.2" height="4.4" viewBox="0 0 4.2 4.4"><path d="M2.1 0.3L0.5 2.1H1.5V3.3H2.7V2.1H3.7Z M0.4 3.7H3.8V4.3H0.4Z" fill="#8a8a8a"/></svg><div class="t" style="left:71.20px;top:93.91px;font-size:6.6px;line-height:6.6px;color:#555;transform:scaleX(0.939);transform-origin:0 0;">See All</div></div><div class="cell" style="left:322.1px;top:262.4px;width:93.2px;height:102.2px;background:#fdf5c0"><div class="b" style="left:0px;top:0px;width:93.2px;height:5.3px;background:#fde800"></div><div class="b" style="left:0px;top:5.3px;width:93.2px;height:16.3px;background:#f0f0f0"></div><div class="t" style="left:2.50px;top:15.65px;font-size:6.2px;line-height:6.2px;color:#6e6e6e;transform:scaleX(0.900);transform-origin:0 0;">Total:</div><div class="t" style="left:17.14px;top:14.97px;font-size:7.0px;line-height:7.0px;color:#333;font-weight:bold;letter-spacing:0.300px;">13</div><div class="t" style="left:30.62px;top:15.65px;font-size:6.2px;line-height:6.2px;color:#6e6e6e;transform:scaleX(0.900);transform-origin:0 0;">Percent:</div><div class="t" style="left:53.00px;top:14.97px;font-size:7.0px;line-height:7.0px;color:#333;font-weight:bold;letter-spacing:0.300px;">7.98%</div><div class="clip" style="left:0;top:21.6px;width:100%;height:68.2px"><div class="b" style="left:2px;top:1.6px;width:89.1px;height:10.9px;background:#fefbe4;border:0.6px solid rgba(255,255,255,0.3);border-radius:1.2px"></div><svg class="b" style="left:3.90px;top:3.50px" width="4.8" height="7.2" viewBox="0 0 4.8 7.2"><g fill="#f2f2f2" stroke="#cdcdcd" stroke-width="0.5"><rect x="0.3" y="0.3" width="1.6" height="1.3"/><rect x="2.7" y="0.3" width="1.6" height="1.3"/><rect x="0.3" y="2.1" width="1.6" height="1.3"/><rect x="2.7" y="2.1" width="1.6" height="1.3"/><rect x="0.3" y="3.9" width="1.6" height="1.3"/><rect x="2.7" y="3.9" width="1.6" height="1.3"/><rect x="0.3" y="5.7" width="1.6" height="1.3"/><rect x="2.7" y="5.7" width="1.6" height="1.3"/></g></svg><div class="t" style="left:10.20px;top:4.74px;font-size:6.8px;line-height:6.8px;color:#333;transform:scaleX(0.850);transform-origin:0 0;">Claude Beaulieu</div><svg class="b" style="left:71.40px;top:2.70px" width="8.7" height="8.7" viewBox="0 0 8 8"><rect width="8" height="8" rx="0.7" fill="#d8262b"/><path d="M4.5 1.4 H2.3 V6.6 H4.5" fill="none" stroke="rgba(255,255,255,0.5)" stroke-width="0.8"/><path d="M1 3.8 H3.3" stroke="rgba(255,255,255,0.5)" stroke-width="0.7"/><path d="M4.2 2.2 L6.5 1.1 V6.6 L4.2 6.8Z" fill="#fff"/></svg><div class="b" style="left:2px;top:13.6px;width:89.1px;height:10.9px;background:#fefbe4;border:0.6px solid rgba(255,255,255,0.3);border-radius:1.2px"></div><svg class="b" style="left:3.90px;top:15.50px" width="4.8" height="7.2" viewBox="0 0 4.8 7.2"><g fill="#f2f2f2" stroke="#cdcdcd" stroke-width="0.5"><rect x="0.3" y="0.3" width="1.6" height="1.3"/><rect x="2.7" y="0.3" width="1.6" height="1.3"/><rect x="0.3" y="2.1" width="1.6" height="1.3"/><rect x="2.7" y="2.1" width="1.6" height="1.3"/><rect x="0.3" y="3.9" width="1.6" height="1.3"/><rect x="2.7" y="3.9" width="1.6" height="1.3"/><rect x="0.3" y="5.7" width="1.6" height="1.3"/><rect x="2.7" y="5.7" width="1.6" height="1.3"/></g></svg><div class="t" style="left:10.20px;top:16.74px;font-size:6.8px;line-height:6.8px;color:#333;transform:scaleX(0.850);transform-origin:0 0;">Carlyle Gardnyer</div><svg class="b" style="left:81.20px;top:14.70px" width="8.7" height="8.7" viewBox="0 0 8 8"><rect width="8" height="8" fill="#3d9a35"/><path d="M1.5 6.5h5v-5z" fill="#fff"/></svg><div class="b" style="left:2px;top:25.6px;width:89.1px;height:10.9px;background:#fefbe4;border:0.6px solid rgba(255,255,255,0.3);border-radius:1.2px"></div><svg class="b" style="left:3.90px;top:27.50px" width="4.8" height="7.2" viewBox="0 0 4.8 7.2"><g fill="#f2f2f2" stroke="#cdcdcd" stroke-width="0.5"><rect x="0.3" y="0.3" width="1.6" height="1.3"/><rect x="2.7" y="0.3" width="1.6" height="1.3"/><rect x="0.3" y="2.1" width="1.6" height="1.3"/><rect x="2.7" y="2.1" width="1.6" height="1.3"/><rect x="0.3" y="3.9" width="1.6" height="1.3"/><rect x="2.7" y="3.9" width="1.6" height="1.3"/><rect x="0.3" y="5.7" width="1.6" height="1.3"/><rect x="2.7" y="5.7" width="1.6" height="1.3"/></g></svg><div class="t" style="left:10.20px;top:28.74px;font-size:6.8px;line-height:6.8px;color:#333;transform:scaleX(0.850);transform-origin:0 0;">Grace Haugen</div><svg class="b" style="left:71.40px;top:26.70px" width="8.7" height="8.7" viewBox="0 0 8 8"><rect width="8" height="8" rx="0.7" fill="#d8262b"/><path d="M4.5 1.4 H2.3 V6.6 H4.5" fill="none" stroke="rgba(255,255,255,0.5)" stroke-width="0.8"/><path d="M1 3.8 H3.3" stroke="rgba(255,255,255,0.5)" stroke-width="0.7"/><path d="M4.2 2.2 L6.5 1.1 V6.6 L4.2 6.8Z" fill="#fff"/></svg><svg class="b" style="left:81.20px;top:26.70px" width="8.7" height="8.7" viewBox="0 0 8 8"><rect width="8" height="8" fill="#3d9a35"/><path d="M1.5 6.5h5v-5z" fill="#fff"/></svg><div class="b" style="left:2px;top:37.6px;width:89.1px;height:10.9px;background:#fefbe4;border:0.6px solid rgba(255,255,255,0.3);border-radius:1.2px"></div><svg class="b" style="left:3.90px;top:39.50px" width="4.8" height="7.2" viewBox="0 0 4.8 7.2"><g fill="#f2f2f2" stroke="#cdcdcd" stroke-width="0.5"><rect x="0.3" y="0.3" width="1.6" height="1.3"/><rect x="2.7" y="0.3" width="1.6" height="1.3"/><rect x="0.3" y="2.1" width="1.6" height="1.3"/><rect x="2.7" y="2.1" width="1.6" height="1.3"/><rect x="0.3" y="3.9" width="1.6" height="1.3"/><rect x="2.7" y="3.9" width="1.6" height="1.3"/><rect x="0.3" y="5.7" width="1.6" height="1.3"/><rect x="2.7" y="5.7" width="1.6" height="1.3"/></g></svg><div class="t" style="left:10.20px;top:40.74px;font-size:6.8px;line-height:6.8px;color:#333;transform:scaleX(0.850);transform-origin:0 0;">Charles Shepherd</div><div class="b" style="left:2px;top:49.6px;width:89.1px;height:10.9px;background:#fefbe4;border:0.6px solid rgba(255,255,255,0.3);border-radius:1.2px"></div><svg class="b" style="left:3.90px;top:51.50px" width="4.8" height="7.2" viewBox="0 0 4.8 7.2"><g fill="#f2f2f2" stroke="#cdcdcd" stroke-width="0.5"><rect x="0.3" y="0.3" width="1.6" height="1.3"/><rect x="2.7" y="0.3" width="1.6" height="1.3"/><rect x="0.3" y="2.1" width="1.6" height="1.3"/><rect x="2.7" y="2.1" width="1.6" height="1.3"/><rect x="0.3" y="3.9" width="1.6" height="1.3"/><rect x="2.7" y="3.9" width="1.6" height="1.3"/><rect x="0.3" y="5.7" width="1.6" height="1.3"/><rect x="2.7" y="5.7" width="1.6" height="1.3"/></g></svg><div class="t" style="left:10.20px;top:52.74px;font-size:6.8px;line-height:6.8px;color:#333;transform:scaleX(0.850);transform-origin:0 0;">Raphael Cloutier</div><div class="b" style="left:2px;top:61.6px;width:89.1px;height:10.9px;background:#fefbe4;border:0.6px solid rgba(255,255,255,0.3);border-radius:1.2px"></div><svg class="b" style="left:3.90px;top:63.50px" width="4.8" height="7.2" viewBox="0 0 4.8 7.2"><g fill="#f2f2f2" stroke="#cdcdcd" stroke-width="0.5"><rect x="0.3" y="0.3" width="1.6" height="1.3"/><rect x="2.7" y="0.3" width="1.6" height="1.3"/><rect x="0.3" y="2.1" width="1.6" height="1.3"/><rect x="2.7" y="2.1" width="1.6" height="1.3"/><rect x="0.3" y="3.9" width="1.6" height="1.3"/><rect x="2.7" y="3.9" width="1.6" height="1.3"/><rect x="0.3" y="5.7" width="1.6" height="1.3"/><rect x="2.7" y="5.7" width="1.6" height="1.3"/></g></svg><div class="t" style="left:10.20px;top:64.74px;font-size:6.8px;line-height:6.8px;color:#333;transform:scaleX(0.850);transform-origin:0 0;">Carmine Burrelson</div><svg class="b" style="left:81.20px;top:62.70px" width="8.7" height="8.7" viewBox="0 0 8 8"><rect width="8" height="8" fill="#3d9a35"/><path d="M1.5 6.5h5v-5z" fill="#fff"/></svg></div><div class="b" style="left:4.6px;top:93.5px;width:5.7px;height:5.9px;background:#fff"></div><svg class="b" style="left:5.4px;top:94.3px" width="4.2" height="4.4" viewBox="0 0 4.2 4.4"><path d="M2.1 0.3L0.5 2.1H1.5V3.3H2.7V2.1H3.7Z M0.4 3.7H3.8V4.3H0.4Z" fill="#8a8a8a"/></svg><div class="t" style="left:71.20px;top:93.91px;font-size:6.6px;line-height:6.6px;color:#555;transform:scaleX(0.939);transform-origin:0 0;">See All</div></div><div class="cell" style="left:419.5px;top:262.4px;width:93.2px;height:102.2px;background:#fdf5c0"><div class="b" style="left:0px;top:0px;width:93.2px;height:5.3px;background:#ffff00"></div><div class="b" style="left:0px;top:5.3px;width:93.2px;height:16.3px;background:#f0f0f0"></div><div class="t" style="left:2.50px;top:15.65px;font-size:6.2px;line-height:6.2px;color:#6e6e6e;transform:scaleX(0.900);transform-origin:0 0;">Total:</div><div class="t" style="left:17.14px;top:14.97px;font-size:7.0px;line-height:7.0px;color:#333;font-weight:bold;letter-spacing:0.300px;">36</div><div class="t" style="left:30.62px;top:15.65px;font-size:6.2px;line-height:6.2px;color:#6e6e6e;transform:scaleX(0.900);transform-origin:0 0;">Percent:</div><div class="t" style="left:53.00px;top:14.97px;font-size:7.0px;line-height:7.0px;color:#333;font-weight:bold;letter-spacing:0.300px;">22.09%</div><div class="clip" style="left:0;top:21.6px;width:100%;height:68.2px"><div class="b" style="left:2px;top:1.6px;width:89.1px;height:10.9px;background:#fefbe4;border:0.6px solid rgba(255,255,255,0.3);border-radius:1.2px"></div><svg class="b" style="left:3.90px;top:3.50px" width="4.8" height="7.2" viewBox="0 0 4.8 7.2"><g fill="#f2f2f2" stroke="#cdcdcd" stroke-width="0.5"><rect x="0.3" y="0.3" width="1.6" height="1.3"/><rect x="2.7" y="0.3" width="1.6" height="1.3"/><rect x="0.3" y="2.1" width="1.6" height="1.3"/><rect x="2.7" y="2.1" width="1.6" height="1.3"/><rect x="0.3" y="3.9" width="1.6" height="1.3"/><rect x="2.7" y="3.9" width="1.6" height="1.3"/><rect x="0.3" y="5.7" width="1.6" height="1.3"/><rect x="2.7" y="5.7" width="1.6" height="1.3"/></g></svg><div class="b" style="left:4.2px;top:2.5px;width:1.2px;height:1.2px;background:#d33;border-radius:50%"></div><div class="t" style="left:10.20px;top:4.74px;font-size:6.8px;line-height:6.8px;color:#333;transform:scaleX(0.850);transform-origin:0 0;">Lisa Cryan</div><svg class="b" style="left:71.40px;top:2.70px" width="8.7" height="8.7" viewBox="0 0 8 8"><rect width="8" height="8" rx="0.7" fill="#ea7e10"/><path d="M4.5 1.4 H2.3 V6.6 H4.5" fill="none" stroke="rgba(255,255,255,0.5)" stroke-width="0.8"/><path d="M1 3.8 H3.3" stroke="rgba(255,255,255,0.5)" stroke-width="0.7"/><path d="M4.2 2.2 L6.5 1.1 V6.6 L4.2 6.8Z" fill="#fff"/></svg><svg class="b" style="left:81.20px;top:2.70px" width="8.7" height="8.7" viewBox="0 0 8 8"><rect width="8" height="8" fill="#3d9a35"/><path d="M1.5 6.5h5v-5z" fill="#fff"/></svg><div class="b" style="left:2px;top:13.6px;width:89.1px;height:10.9px;background:#fefbe4;border:0.6px solid rgba(255,255,255,0.3);border-radius:1.2px"></div><svg class="b" style="left:3.90px;top:15.50px" width="4.8" height="7.2" viewBox="0 0 4.8 7.2"><g fill="#f2f2f2" stroke="#cdcdcd" stroke-width="0.5"><rect x="0.3" y="0.3" width="1.6" height="1.3"/><rect x="2.7" y="0.3" width="1.6" height="1.3"/><rect x="0.3" y="2.1" width="1.6" height="1.3"/><rect x="2.7" y="2.1" width="1.6" height="1.3"/><rect x="0.3" y="3.9" width="1.6" height="1.3"/><rect x="2.7" y="3.9" width="1.6" height="1.3"/><rect x="0.3" y="5.7" width="1.6" height="1.3"/><rect x="2.7" y="5.7" width="1.6" height="1.3"/></g></svg><div class="t" style="left:10.20px;top:16.74px;font-size:6.8px;line-height:6.8px;color:#333;transform:scaleX(0.850);transform-origin:0 0;">Charlotte Adams...</div><svg class="b" style="left:71.40px;top:14.70px" width="8.7" height="8.7" viewBox="0 0 8 8"><rect width="8" height="8" rx="0.7" fill="#ea7e10"/><path d="M4.5 1.4 H2.3 V6.6 H4.5" fill="none" stroke="rgba(255,255,255,0.5)" stroke-width="0.8"/><path d="M1 3.8 H3.3" stroke="rgba(255,255,255,0.5)" stroke-width="0.7"/><path d="M4.2 2.2 L6.5 1.1 V6.6 L4.2 6.8Z" fill="#fff"/></svg><div class="b" style="left:2px;top:25.6px;width:89.1px;height:10.9px;background:#fefbe4;border:0.6px solid rgba(255,255,255,0.3);border-radius:1.2px"></div><svg class="b" style="left:3.90px;top:27.50px" width="4.8" height="7.2" viewBox="0 0 4.8 7.2"><g fill="#f2f2f2" stroke="#cdcdcd" stroke-width="0.5"><rect x="0.3" y="0.3" width="1.6" height="1.3"/><rect x="2.7" y="0.3" width="1.6" height="1.3"/><rect x="0.3" y="2.1" width="1.6" height="1.3"/><rect x="2.7" y="2.1" width="1.6" height="1.3"/><rect x="0.3" y="3.9" width="1.6" height="1.3"/><rect x="2.7" y="3.9" width="1.6" height="1.3"/><rect x="0.3" y="5.7" width="1.6" height="1.3"/><rect x="2.7" y="5.7" width="1.6" height="1.3"/></g></svg><div class="t" style="left:10.20px;top:28.74px;font-size:6.8px;line-height:6.8px;color:#333;transform:scaleX(0.850);transform-origin:0 0;">Oxana Antonov</div><div class="b" style="left:2px;top:37.6px;width:89.1px;height:10.9px;background:#fefbe4;border:0.6px solid rgba(255,255,255,0.3);border-radius:1.2px"></div><svg class="b" style="left:3.90px;top:39.50px" width="4.8" height="7.2" viewBox="0 0 4.8 7.2"><g fill="#f2f2f2" stroke="#cdcdcd" stroke-width="0.5"><rect x="0.3" y="0.3" width="1.6" height="1.3"/><rect x="2.7" y="0.3" width="1.6" height="1.3"/><rect x="0.3" y="2.1" width="1.6" height="1.3"/><rect x="2.7" y="2.1" width="1.6" height="1.3"/><rect x="0.3" y="3.9" width="1.6" height="1.3"/><rect x="2.7" y="3.9" width="1.6" height="1.3"/><rect x="0.3" y="5.7" width="1.6" height="1.3"/><rect x="2.7" y="5.7" width="1.6" height="1.3"/></g></svg><div class="t" style="left:10.20px;top:40.74px;font-size:6.8px;line-height:6.8px;color:#333;transform:scaleX(0.850);transform-origin:0 0;">Rebecca Favreau</div><div class="b" style="left:2px;top:49.6px;width:89.1px;height:10.9px;background:#fefbe4;border:0.6px solid rgba(255,255,255,0.3);border-radius:1.2px"></div><svg class="b" style="left:3.90px;top:51.50px" width="4.8" height="7.2" viewBox="0 0 4.8 7.2"><g fill="#f2f2f2" stroke="#cdcdcd" stroke-width="0.5"><rect x="0.3" y="0.3" width="1.6" height="1.3"/><rect x="2.7" y="0.3" width="1.6" height="1.3"/><rect x="0.3" y="2.1" width="1.6" height="1.3"/><rect x="2.7" y="2.1" width="1.6" height="1.3"/><rect x="0.3" y="3.9" width="1.6" height="1.3"/><rect x="2.7" y="3.9" width="1.6" height="1.3"/><rect x="0.3" y="5.7" width="1.6" height="1.3"/><rect x="2.7" y="5.7" width="1.6" height="1.3"/></g></svg><div class="t" style="left:10.20px;top:52.74px;font-size:6.8px;line-height:6.8px;color:#333;transform:scaleX(0.850);transform-origin:0 0;">Nicholas Fuller</div><div class="b" style="left:2px;top:61.6px;width:89.1px;height:10.9px;background:#fefbe4;border:0.6px solid rgba(255,255,255,0.3);border-radius:1.2px"></div><svg class="b" style="left:3.90px;top:63.50px" width="4.8" height="7.2" viewBox="0 0 4.8 7.2"><g fill="#f2f2f2" stroke="#cdcdcd" stroke-width="0.5"><rect x="0.3" y="0.3" width="1.6" height="1.3"/><rect x="2.7" y="0.3" width="1.6" height="1.3"/><rect x="0.3" y="2.1" width="1.6" height="1.3"/><rect x="2.7" y="2.1" width="1.6" height="1.3"/><rect x="0.3" y="3.9" width="1.6" height="1.3"/><rect x="2.7" y="3.9" width="1.6" height="1.3"/><rect x="0.3" y="5.7" width="1.6" height="1.3"/><rect x="2.7" y="5.7" width="1.6" height="1.3"/></g></svg><div class="t" style="left:10.20px;top:64.74px;font-size:6.8px;line-height:6.8px;color:#333;transform:scaleX(0.850);transform-origin:0 0;">Diane Ferreira</div></div><div class="b" style="left:4.6px;top:93.5px;width:5.7px;height:5.9px;background:#fff"></div><svg class="b" style="left:5.4px;top:94.3px" width="4.2" height="4.4" viewBox="0 0 4.2 4.4"><path d="M2.1 0.3L0.5 2.1H1.5V3.3H2.7V2.1H3.7Z M0.4 3.7H3.8V4.3H0.4Z" fill="#8a8a8a"/></svg><div class="t" style="left:71.20px;top:93.91px;font-size:6.6px;line-height:6.6px;color:#555;transform:scaleX(0.939);transform-origin:0 0;">See All</div></div><div class="cell" style="left:517.2px;top:262.4px;width:93.2px;height:102.2px;background:#fcf8da"><div class="b" style="left:0px;top:0px;width:93.2px;height:5.3px;background:#feee5e"></div><div class="b" style="left:0px;top:5.3px;width:93.2px;height:16.3px;background:#f0f0f0"></div><div class="t" style="left:2.50px;top:15.65px;font-size:6.2px;line-height:6.2px;color:#6e6e6e;transform:scaleX(0.900);transform-origin:0 0;">Total:</div><div class="t" style="left:17.14px;top:14.97px;font-size:7.0px;line-height:7.0px;color:#333;font-weight:bold;letter-spacing:0.300px;">17</div><div class="t" style="left:30.62px;top:15.65px;font-size:6.2px;line-height:6.2px;color:#6e6e6e;transform:scaleX(0.900);transform-origin:0 0;">Percent:</div><div class="t" style="left:53.00px;top:14.97px;font-size:7.0px;line-height:7.0px;color:#333;font-weight:bold;letter-spacing:0.300px;">10.43%</div><div class="clip" style="left:0;top:21.6px;width:100%;height:68.2px"><div class="b" style="left:2px;top:1.6px;width:89.1px;height:10.9px;background:#fefde9;border:0.6px solid rgba(255,255,255,0.3);border-radius:1.2px"></div><svg class="b" style="left:3.90px;top:3.50px" width="4.8" height="7.2" viewBox="0 0 4.8 7.2"><g fill="#f2f2f2" stroke="#cdcdcd" stroke-width="0.5"><rect x="0.3" y="0.3" width="1.6" height="1.3"/><rect x="2.7" y="0.3" width="1.6" height="1.3"/><rect x="0.3" y="2.1" width="1.6" height="1.3"/><rect x="2.7" y="2.1" width="1.6" height="1.3"/><rect x="0.3" y="3.9" width="1.6" height="1.3"/><rect x="2.7" y="3.9" width="1.6" height="1.3"/><rect x="0.3" y="5.7" width="1.6" height="1.3"/><rect x="2.7" y="5.7" width="1.6" height="1.3"/></g></svg><div class="t" style="left:10.20px;top:4.74px;font-size:6.8px;line-height:6.8px;color:#333;transform:scaleX(0.850);transform-origin:0 0;">Mario Cernik</div><div class="b" style="left:2px;top:13.6px;width:89.1px;height:10.9px;background:#fefde9;border:0.6px solid rgba(255,255,255,0.3);border-radius:1.2px"></div><svg class="b" style="left:3.90px;top:15.50px" width="4.8" height="7.2" viewBox="0 0 4.8 7.2"><g fill="#f2f2f2" stroke="#cdcdcd" stroke-width="0.5"><rect x="0.3" y="0.3" width="1.6" height="1.3"/><rect x="2.7" y="0.3" width="1.6" height="1.3"/><rect x="0.3" y="2.1" width="1.6" height="1.3"/><rect x="2.7" y="2.1" width="1.6" height="1.3"/><rect x="0.3" y="3.9" width="1.6" height="1.3"/><rect x="2.7" y="3.9" width="1.6" height="1.3"/><rect x="0.3" y="5.7" width="1.6" height="1.3"/><rect x="2.7" y="5.7" width="1.6" height="1.3"/></g></svg><div class="t" style="left:10.20px;top:16.74px;font-size:6.8px;line-height:6.8px;color:#333;transform:scaleX(0.850);transform-origin:0 0;">Mireille Chevalier</div><div class="b" style="left:2px;top:25.6px;width:89.1px;height:10.9px;background:#fefde9;border:0.6px solid rgba(255,255,255,0.3);border-radius:1.2px"></div><svg class="b" style="left:3.90px;top:27.50px" width="4.8" height="7.2" viewBox="0 0 4.8 7.2"><g fill="#f2f2f2" stroke="#cdcdcd" stroke-width="0.5"><rect x="0.3" y="0.3" width="1.6" height="1.3"/><rect x="2.7" y="0.3" width="1.6" height="1.3"/><rect x="0.3" y="2.1" width="1.6" height="1.3"/><rect x="2.7" y="2.1" width="1.6" height="1.3"/><rect x="0.3" y="3.9" width="1.6" height="1.3"/><rect x="2.7" y="3.9" width="1.6" height="1.3"/><rect x="0.3" y="5.7" width="1.6" height="1.3"/><rect x="2.7" y="5.7" width="1.6" height="1.3"/></g></svg><div class="t" style="left:10.20px;top:28.74px;font-size:6.8px;line-height:6.8px;color:#333;transform:scaleX(0.850);transform-origin:0 0;">Rick Jenson</div><div class="b" style="left:2px;top:37.6px;width:89.1px;height:10.9px;background:#fefde9;border:0.6px solid rgba(255,255,255,0.3);border-radius:1.2px"></div><svg class="b" style="left:3.90px;top:39.50px" width="4.8" height="7.2" viewBox="0 0 4.8 7.2"><g fill="#f2f2f2" stroke="#cdcdcd" stroke-width="0.5"><rect x="0.3" y="0.3" width="1.6" height="1.3"/><rect x="2.7" y="0.3" width="1.6" height="1.3"/><rect x="0.3" y="2.1" width="1.6" height="1.3"/><rect x="2.7" y="2.1" width="1.6" height="1.3"/><rect x="0.3" y="3.9" width="1.6" height="1.3"/><rect x="2.7" y="3.9" width="1.6" height="1.3"/><rect x="0.3" y="5.7" width="1.6" height="1.3"/><rect x="2.7" y="5.7" width="1.6" height="1.3"/></g></svg><div class="t" style="left:10.20px;top:40.74px;font-size:6.8px;line-height:6.8px;color:#333;transform:scaleX(0.850);transform-origin:0 0;">Mark Duffy</div><svg class="b" style="left:71.40px;top:38.70px" width="8.7" height="8.7" viewBox="0 0 8 8"><rect width="8" height="8" rx="0.7" fill="#ea7e10"/><path d="M4.5 1.4 H2.3 V6.6 H4.5" fill="none" stroke="rgba(255,255,255,0.5)" stroke-width="0.8"/><path d="M1 3.8 H3.3" stroke="rgba(255,255,255,0.5)" stroke-width="0.7"/><path d="M4.2 2.2 L6.5 1.1 V6.6 L4.2 6.8Z" fill="#fff"/></svg><div class="b" style="left:2px;top:49.6px;width:89.1px;height:10.9px;background:#fefde9;border:0.6px solid rgba(255,255,255,0.3);border-radius:1.2px"></div><svg class="b" style="left:3.90px;top:51.50px" width="4.8" height="7.2" viewBox="0 0 4.8 7.2"><g fill="#f2f2f2" stroke="#cdcdcd" stroke-width="0.5"><rect x="0.3" y="0.3" width="1.6" height="1.3"/><rect x="2.7" y="0.3" width="1.6" height="1.3"/><rect x="0.3" y="2.1" width="1.6" height="1.3"/><rect x="2.7" y="2.1" width="1.6" height="1.3"/><rect x="0.3" y="3.9" width="1.6" height="1.3"/><rect x="2.7" y="3.9" width="1.6" height="1.3"/><rect x="0.3" y="5.7" width="1.6" height="1.3"/><rect x="2.7" y="5.7" width="1.6" height="1.3"/></g></svg><div class="t" style="left:10.20px;top:52.74px;font-size:6.8px;line-height:6.8px;color:#333;transform:scaleX(0.850);transform-origin:0 0;">Deanna Fletcher</div><svg class="b" style="left:71.40px;top:50.70px" width="8.7" height="8.7" viewBox="0 0 8 8"><rect width="8" height="8" rx="0.7" fill="#ea7e10"/><path d="M4.5 1.4 H2.3 V6.6 H4.5" fill="none" stroke="rgba(255,255,255,0.5)" stroke-width="0.8"/><path d="M1 3.8 H3.3" stroke="rgba(255,255,255,0.5)" stroke-width="0.7"/><path d="M4.2 2.2 L6.5 1.1 V6.6 L4.2 6.8Z" fill="#fff"/></svg><div class="b" style="left:2px;top:61.6px;width:89.1px;height:10.9px;background:#fefde9;border:0.6px solid rgba(255,255,255,0.3);border-radius:1.2px"></div><svg class="b" style="left:3.90px;top:63.50px" width="4.8" height="7.2" viewBox="0 0 4.8 7.2"><g fill="#f2f2f2" stroke="#cdcdcd" stroke-width="0.5"><rect x="0.3" y="0.3" width="1.6" height="1.3"/><rect x="2.7" y="0.3" width="1.6" height="1.3"/><rect x="0.3" y="2.1" width="1.6" height="1.3"/><rect x="2.7" y="2.1" width="1.6" height="1.3"/><rect x="0.3" y="3.9" width="1.6" height="1.3"/><rect x="2.7" y="3.9" width="1.6" height="1.3"/><rect x="0.3" y="5.7" width="1.6" height="1.3"/><rect x="2.7" y="5.7" width="1.6" height="1.3"/></g></svg><div class="t" style="left:10.20px;top:64.74px;font-size:6.8px;line-height:6.8px;color:#333;transform:scaleX(0.850);transform-origin:0 0;">Louis Salem</div></div><div class="b" style="left:4.6px;top:93.5px;width:5.7px;height:5.9px;background:#fff"></div><svg class="b" style="left:5.4px;top:94.3px" width="4.2" height="4.4" viewBox="0 0 4.2 4.4"><path d="M2.1 0.3L0.5 2.1H1.5V3.3H2.7V2.1H3.7Z M0.4 3.7H3.8V4.3H0.4Z" fill="#8a8a8a"/></svg><div class="t" style="left:71.20px;top:93.91px;font-size:6.6px;line-height:6.6px;color:#555;transform:scaleX(0.939);transform-origin:0 0;">See All</div></div><div class="cell" style="left:614.6px;top:262.4px;width:93.2px;height:102.2px;background:#fffbe1"><div class="b" style="left:0px;top:0px;width:93.2px;height:5.3px;background:#fdf0a8"></div><div class="b" style="left:0px;top:5.3px;width:93.2px;height:16.3px;background:#f0f0f0"></div><div class="t" style="left:2.50px;top:15.65px;font-size:6.2px;line-height:6.2px;color:#6e6e6e;transform:scaleX(0.900);transform-origin:0 0;">Total:</div><div class="t" style="left:17.14px;top:14.97px;font-size:7.0px;line-height:7.0px;color:#333;font-weight:bold;letter-spacing:0.300px;">3</div><div class="t" style="left:26.43px;top:15.65px;font-size:6.2px;line-height:6.2px;color:#6e6e6e;transform:scaleX(0.900);transform-origin:0 0;">Percent:</div><div class="t" style="left:48.81px;top:14.97px;font-size:7.0px;line-height:7.0px;color:#333;font-weight:bold;letter-spacing:0.300px;">1.84%</div><div class="clip" style="left:0;top:21.6px;width:100%;height:68.2px"><div class="b" style="left:2px;top:1.6px;width:89.1px;height:10.9px;background:#fffdf0;border:0.6px solid rgba(255,255,255,0.3);border-radius:1.2px"></div><svg class="b" style="left:3.90px;top:3.50px" width="4.8" height="7.2" viewBox="0 0 4.8 7.2"><g fill="#f2f2f2" stroke="#cdcdcd" stroke-width="0.5"><rect x="0.3" y="0.3" width="1.6" height="1.3"/><rect x="2.7" y="0.3" width="1.6" height="1.3"/><rect x="0.3" y="2.1" width="1.6" height="1.3"/><rect x="2.7" y="2.1" width="1.6" height="1.3"/><rect x="0.3" y="3.9" width="1.6" height="1.3"/><rect x="2.7" y="3.9" width="1.6" height="1.3"/><rect x="0.3" y="5.7" width="1.6" height="1.3"/><rect x="2.7" y="5.7" width="1.6" height="1.3"/></g></svg><div class="t" style="left:10.20px;top:4.74px;font-size:6.8px;line-height:6.8px;color:#333;transform:scaleX(0.850);transform-origin:0 0;">Maya Hudnall</div><div class="b" style="left:2px;top:13.6px;width:89.1px;height:10.9px;background:#fffdf0;border:0.6px solid rgba(255,255,255,0.3);border-radius:1.2px"></div><svg class="b" style="left:3.90px;top:15.50px" width="4.8" height="7.2" viewBox="0 0 4.8 7.2"><g fill="#f2f2f2" stroke="#cdcdcd" stroke-width="0.5"><rect x="0.3" y="0.3" width="1.6" height="1.3"/><rect x="2.7" y="0.3" width="1.6" height="1.3"/><rect x="0.3" y="2.1" width="1.6" height="1.3"/><rect x="2.7" y="2.1" width="1.6" height="1.3"/><rect x="0.3" y="3.9" width="1.6" height="1.3"/><rect x="2.7" y="3.9" width="1.6" height="1.3"/><rect x="0.3" y="5.7" width="1.6" height="1.3"/><rect x="2.7" y="5.7" width="1.6" height="1.3"/></g></svg><div class="t" style="left:10.20px;top:16.74px;font-size:6.8px;line-height:6.8px;color:#333;transform:scaleX(0.850);transform-origin:0 0;">Eric Costa</div><div class="b" style="left:2px;top:25.6px;width:89.1px;height:10.9px;background:#fffdf0;border:0.6px solid rgba(255,255,255,0.3);border-radius:1.2px"></div><svg class="b" style="left:3.90px;top:27.50px" width="4.8" height="7.2" viewBox="0 0 4.8 7.2"><g fill="#f2f2f2" stroke="#cdcdcd" stroke-width="0.5"><rect x="0.3" y="0.3" width="1.6" height="1.3"/><rect x="2.7" y="0.3" width="1.6" height="1.3"/><rect x="0.3" y="2.1" width="1.6" height="1.3"/><rect x="2.7" y="2.1" width="1.6" height="1.3"/><rect x="0.3" y="3.9" width="1.6" height="1.3"/><rect x="2.7" y="3.9" width="1.6" height="1.3"/><rect x="0.3" y="5.7" width="1.6" height="1.3"/><rect x="2.7" y="5.7" width="1.6" height="1.3"/></g></svg><div class="t" style="left:10.20px;top:28.74px;font-size:6.8px;line-height:6.8px;color:#333;transform:scaleX(0.850);transform-origin:0 0;">Monica Franco</div></div><div class="b" style="left:4.6px;top:93.5px;width:5.7px;height:5.9px;background:#fff"></div><svg class="b" style="left:5.4px;top:94.3px" width="4.2" height="4.4" viewBox="0 0 4.2 4.4"><path d="M2.1 0.3L0.5 2.1H1.5V3.3H2.7V2.1H3.7Z M0.4 3.7H3.8V4.3H0.4Z" fill="#8a8a8a"/></svg><div class="t" style="left:71.20px;top:93.91px;font-size:6.6px;line-height:6.6px;color:#555;transform:scaleX(0.939);transform-origin:0 0;">See All</div></div><div class="cell" style="left:224.7px;top:369.0px;width:93.2px;height:102.2px;background:#dbbcbe"><div class="b" style="left:0px;top:0px;width:93.2px;height:5.3px;background:#7b0000"></div><div class="b" style="left:0px;top:5.3px;width:93.2px;height:16.3px;background:#f0f0f0"></div><div class="t" style="left:2.50px;top:15.65px;font-size:6.2px;line-height:6.2px;color:#6e6e6e;transform:scaleX(0.900);transform-origin:0 0;">Total:</div><div class="t" style="left:17.14px;top:14.97px;font-size:7.0px;line-height:7.0px;color:#333;font-weight:bold;letter-spacing:0.300px;">1</div><div class="t" style="left:26.43px;top:15.65px;font-size:6.2px;line-height:6.2px;color:#6e6e6e;transform:scaleX(0.900);transform-origin:0 0;">Percent:</div><div class="t" style="left:48.81px;top:14.97px;font-size:7.0px;line-height:7.0px;color:#333;font-weight:bold;letter-spacing:0.300px;">0.61%</div><div class="clip" style="left:0;top:21.6px;width:100%;height:68.2px"><div class="b" style="left:2px;top:1.6px;width:89.1px;height:10.9px;background:#efdfe0;border:0.6px solid rgba(255,255,255,0.3);border-radius:1.2px"></div><svg class="b" style="left:3.90px;top:3.50px" width="4.8" height="7.2" viewBox="0 0 4.8 7.2"><g fill="#f2f2f2" stroke="#cdcdcd" stroke-width="0.5"><rect x="0.3" y="0.3" width="1.6" height="1.3"/><rect x="2.7" y="0.3" width="1.6" height="1.3"/><rect x="0.3" y="2.1" width="1.6" height="1.3"/><rect x="2.7" y="2.1" width="1.6" height="1.3"/><rect x="0.3" y="3.9" width="1.6" height="1.3"/><rect x="2.7" y="3.9" width="1.6" height="1.3"/><rect x="0.3" y="5.7" width="1.6" height="1.3"/><rect x="2.7" y="5.7" width="1.6" height="1.3"/></g></svg><div class="t" style="left:10.20px;top:4.74px;font-size:6.8px;line-height:6.8px;color:#333;transform:scaleX(0.850);transform-origin:0 0;">India Monson</div></div><div class="b" style="left:4.6px;top:93.5px;width:5.7px;height:5.9px;background:#fff"></div><svg class="b" style="left:5.4px;top:94.3px" width="4.2" height="4.4" viewBox="0 0 4.2 4.4"><path d="M2.1 0.3L0.5 2.1H1.5V3.3H2.7V2.1H3.7Z M0.4 3.7H3.8V4.3H0.4Z" fill="#8a8a8a"/></svg><div class="t" style="left:71.20px;top:93.91px;font-size:6.6px;line-height:6.6px;color:#555;transform:scaleX(0.939);transform-origin:0 0;">See All</div></div><div class="cell" style="left:322.1px;top:369.0px;width:93.2px;height:102.2px;background:#e9c6c9"><div class="b" style="left:0px;top:0px;width:93.2px;height:5.3px;background:#a50f1b"></div><div class="b" style="left:0px;top:5.3px;width:93.2px;height:16.3px;background:#f0f0f0"></div><div class="t" style="left:2.50px;top:15.65px;font-size:6.2px;line-height:6.2px;color:#6e6e6e;transform:scaleX(0.900);transform-origin:0 0;">Total:</div><div class="t" style="left:17.14px;top:14.97px;font-size:7.0px;line-height:7.0px;color:#333;font-weight:bold;letter-spacing:0.300px;">11</div><div class="t" style="left:30.24px;top:15.65px;font-size:6.2px;line-height:6.2px;color:#6e6e6e;transform:scaleX(0.900);transform-origin:0 0;">Percent:</div><div class="t" style="left:52.62px;top:14.97px;font-size:7.0px;line-height:7.0px;color:#333;font-weight:bold;letter-spacing:0.300px;">6.75%</div><div class="clip" style="left:0;top:21.6px;width:100%;height:68.2px"><div class="b" style="left:2px;top:1.6px;width:89.1px;height:10.9px;background:#f4e3e5;border:0.6px solid rgba(255,255,255,0.3);border-radius:1.2px"></div><svg class="b" style="left:3.90px;top:3.50px" width="4.8" height="7.2" viewBox="0 0 4.8 7.2"><g fill="#f2f2f2" stroke="#cdcdcd" stroke-width="0.5"><rect x="0.3" y="0.3" width="1.6" height="1.3"/><rect x="2.7" y="0.3" width="1.6" height="1.3"/><rect x="0.3" y="2.1" width="1.6" height="1.3"/><rect x="2.7" y="2.1" width="1.6" height="1.3"/><rect x="0.3" y="3.9" width="1.6" height="1.3"/><rect x="2.7" y="3.9" width="1.6" height="1.3"/><rect x="0.3" y="5.7" width="1.6" height="1.3"/><rect x="2.7" y="5.7" width="1.6" height="1.3"/></g></svg><div class="t" style="left:10.20px;top:4.74px;font-size:6.8px;line-height:6.8px;color:#333;transform:scaleX(0.850);transform-origin:0 0;">Anthony Zeman</div><div class="b" style="left:2px;top:13.6px;width:89.1px;height:10.9px;background:#f4e3e5;border:0.6px solid rgba(255,255,255,0.3);border-radius:1.2px"></div><svg class="b" style="left:3.90px;top:15.50px" width="4.8" height="7.2" viewBox="0 0 4.8 7.2"><g fill="#f2f2f2" stroke="#cdcdcd" stroke-width="0.5"><rect x="0.3" y="0.3" width="1.6" height="1.3"/><rect x="2.7" y="0.3" width="1.6" height="1.3"/><rect x="0.3" y="2.1" width="1.6" height="1.3"/><rect x="2.7" y="2.1" width="1.6" height="1.3"/><rect x="0.3" y="3.9" width="1.6" height="1.3"/><rect x="2.7" y="3.9" width="1.6" height="1.3"/><rect x="0.3" y="5.7" width="1.6" height="1.3"/><rect x="2.7" y="5.7" width="1.6" height="1.3"/></g></svg><div class="t" style="left:10.20px;top:16.74px;font-size:6.8px;line-height:6.8px;color:#333;transform:scaleX(0.850);transform-origin:0 0;">Devon Strider</div><div class="b" style="left:2px;top:25.6px;width:89.1px;height:10.9px;background:#f4e3e5;border:0.6px solid rgba(255,255,255,0.3);border-radius:1.2px"></div><svg class="b" style="left:3.90px;top:27.50px" width="4.8" height="7.2" viewBox="0 0 4.8 7.2"><g fill="#f2f2f2" stroke="#cdcdcd" stroke-width="0.5"><rect x="0.3" y="0.3" width="1.6" height="1.3"/><rect x="2.7" y="0.3" width="1.6" height="1.3"/><rect x="0.3" y="2.1" width="1.6" height="1.3"/><rect x="2.7" y="2.1" width="1.6" height="1.3"/><rect x="0.3" y="3.9" width="1.6" height="1.3"/><rect x="2.7" y="3.9" width="1.6" height="1.3"/><rect x="0.3" y="5.7" width="1.6" height="1.3"/><rect x="2.7" y="5.7" width="1.6" height="1.3"/></g></svg><div class="t" style="left:10.20px;top:28.74px;font-size:6.8px;line-height:6.8px;color:#333;transform:scaleX(0.850);transform-origin:0 0;">Ken Okamont</div><div class="b" style="left:2px;top:37.6px;width:89.1px;height:10.9px;background:#f4e3e5;border:0.6px solid rgba(255,255,255,0.3);border-radius:1.2px"></div><svg class="b" style="left:3.90px;top:39.50px" width="4.8" height="7.2" viewBox="0 0 4.8 7.2"><g fill="#f2f2f2" stroke="#cdcdcd" stroke-width="0.5"><rect x="0.3" y="0.3" width="1.6" height="1.3"/><rect x="2.7" y="0.3" width="1.6" height="1.3"/><rect x="0.3" y="2.1" width="1.6" height="1.3"/><rect x="2.7" y="2.1" width="1.6" height="1.3"/><rect x="0.3" y="3.9" width="1.6" height="1.3"/><rect x="2.7" y="3.9" width="1.6" height="1.3"/><rect x="0.3" y="5.7" width="1.6" height="1.3"/><rect x="2.7" y="5.7" width="1.6" height="1.3"/></g></svg><div class="t" style="left:10.20px;top:40.74px;font-size:6.8px;line-height:6.8px;color:#333;transform:scaleX(0.850);transform-origin:0 0;">Shun Long</div></div><div class="b" style="left:4.6px;top:93.5px;width:5.7px;height:5.9px;background:#fff"></div><svg class="b" style="left:5.4px;top:94.3px" width="4.2" height="4.4" viewBox="0 0 4.2 4.4"><path d="M2.1 0.3L0.5 2.1H1.5V3.3H2.7V2.1H3.7Z M0.4 3.7H3.8V4.3H0.4Z" fill="#8a8a8a"/></svg><div class="t" style="left:71.20px;top:93.91px;font-size:6.6px;line-height:6.6px;color:#555;transform:scaleX(0.939);transform-origin:0 0;">See All</div></div><div class="cell" style="left:419.5px;top:369.0px;width:93.2px;height:102.2px;background:#f9d3d4"><div class="b" style="left:0px;top:0px;width:93.2px;height:5.3px;background:#ed1c24"></div><div class="b" style="left:0px;top:5.3px;width:93.2px;height:16.3px;background:#f0f0f0"></div><div class="t" style="left:2.50px;top:15.65px;font-size:6.2px;line-height:6.2px;color:#6e6e6e;transform:scaleX(0.900);transform-origin:0 0;">Total:</div><div class="t" style="left:17.14px;top:14.97px;font-size:7.0px;line-height:7.0px;color:#333;font-weight:bold;letter-spacing:0.300px;">20</div><div class="t" style="left:30.62px;top:15.65px;font-size:6.2px;line-height:6.2px;color:#6e6e6e;transform:scaleX(0.900);transform-origin:0 0;">Percent:</div><div class="t" style="left:53.00px;top:14.97px;font-size:7.0px;line-height:7.0px;color:#333;font-weight:bold;letter-spacing:0.300px;">12.27%</div><div class="clip" style="left:0;top:21.6px;width:100%;height:68.2px"><div class="b" style="left:2px;top:1.6px;width:89.1px;height:10.9px;background:#fde7e7;border:0.6px solid rgba(255,255,255,0.3);border-radius:1.2px"></div><svg class="b" style="left:3.90px;top:3.50px" width="4.8" height="7.2" viewBox="0 0 4.8 7.2"><g fill="#f2f2f2" stroke="#cdcdcd" stroke-width="0.5"><rect x="0.3" y="0.3" width="1.6" height="1.3"/><rect x="2.7" y="0.3" width="1.6" height="1.3"/><rect x="0.3" y="2.1" width="1.6" height="1.3"/><rect x="2.7" y="2.1" width="1.6" height="1.3"/><rect x="0.3" y="3.9" width="1.6" height="1.3"/><rect x="2.7" y="3.9" width="1.6" height="1.3"/><rect x="0.3" y="5.7" width="1.6" height="1.3"/><rect x="2.7" y="5.7" width="1.6" height="1.3"/></g></svg><div class="t" style="left:10.20px;top:4.74px;font-size:6.8px;line-height:6.8px;color:#333;transform:scaleX(0.850);transform-origin:0 0;">Justin Abrams</div><div class="b" style="left:2px;top:13.6px;width:89.1px;height:10.9px;background:#fde7e7;border:0.6px solid rgba(255,255,255,0.3);border-radius:1.2px"></div><svg class="b" style="left:3.90px;top:15.50px" width="4.8" height="7.2" viewBox="0 0 4.8 7.2"><g fill="#f2f2f2" stroke="#cdcdcd" stroke-width="0.5"><rect x="0.3" y="0.3" width="1.6" height="1.3"/><rect x="2.7" y="0.3" width="1.6" height="1.3"/><rect x="0.3" y="2.1" width="1.6" height="1.3"/><rect x="2.7" y="2.1" width="1.6" height="1.3"/><rect x="0.3" y="3.9" width="1.6" height="1.3"/><rect x="2.7" y="3.9" width="1.6" height="1.3"/><rect x="0.3" y="5.7" width="1.6" height="1.3"/><rect x="2.7" y="5.7" width="1.6" height="1.3"/></g></svg><div class="t" style="left:10.20px;top:16.74px;font-size:6.8px;line-height:6.8px;color:#333;transform:scaleX(0.850);transform-origin:0 0;">Mary Cytryn</div><div class="b" style="left:2px;top:25.6px;width:89.1px;height:10.9px;background:#fde7e7;border:0.6px solid rgba(255,255,255,0.3);border-radius:1.2px"></div><svg class="b" style="left:3.90px;top:27.50px" width="4.8" height="7.2" viewBox="0 0 4.8 7.2"><g fill="#f2f2f2" stroke="#cdcdcd" stroke-width="0.5"><rect x="0.3" y="0.3" width="1.6" height="1.3"/><rect x="2.7" y="0.3" width="1.6" height="1.3"/><rect x="0.3" y="2.1" width="1.6" height="1.3"/><rect x="2.7" y="2.1" width="1.6" height="1.3"/><rect x="0.3" y="3.9" width="1.6" height="1.3"/><rect x="2.7" y="3.9" width="1.6" height="1.3"/><rect x="0.3" y="5.7" width="1.6" height="1.3"/><rect x="2.7" y="5.7" width="1.6" height="1.3"/></g></svg><div class="t" style="left:10.20px;top:28.74px;font-size:6.8px;line-height:6.8px;color:#333;transform:scaleX(0.850);transform-origin:0 0;">Molly Doran</div><div class="b" style="left:2px;top:37.6px;width:89.1px;height:10.9px;background:#fde7e7;border:0.6px solid rgba(255,255,255,0.3);border-radius:1.2px"></div><svg class="b" style="left:3.90px;top:39.50px" width="4.8" height="7.2" viewBox="0 0 4.8 7.2"><g fill="#f2f2f2" stroke="#cdcdcd" stroke-width="0.5"><rect x="0.3" y="0.3" width="1.6" height="1.3"/><rect x="2.7" y="0.3" width="1.6" height="1.3"/><rect x="0.3" y="2.1" width="1.6" height="1.3"/><rect x="2.7" y="2.1" width="1.6" height="1.3"/><rect x="0.3" y="3.9" width="1.6" height="1.3"/><rect x="2.7" y="3.9" width="1.6" height="1.3"/><rect x="0.3" y="5.7" width="1.6" height="1.3"/><rect x="2.7" y="5.7" width="1.6" height="1.3"/></g></svg><div class="t" style="left:10.20px;top:40.74px;font-size:6.8px;line-height:6.8px;color:#333;transform:scaleX(0.850);transform-origin:0 0;">Petra Limonella</div></div><div class="b" style="left:4.6px;top:93.5px;width:5.7px;height:5.9px;background:#fff"></div><svg class="b" style="left:5.4px;top:94.3px" width="4.2" height="4.4" viewBox="0 0 4.2 4.4"><path d="M2.1 0.3L0.5 2.1H1.5V3.3H2.7V2.1H3.7Z M0.4 3.7H3.8V4.3H0.4Z" fill="#8a8a8a"/></svg><div class="t" style="left:71.20px;top:93.91px;font-size:6.6px;line-height:6.6px;color:#555;transform:scaleX(0.939);transform-origin:0 0;">See All</div></div><div class="cell" style="left:517.2px;top:369.0px;width:93.2px;height:102.2px;background:#fce3dd"><div class="b" style="left:0px;top:0px;width:93.2px;height:5.3px;background:#ef6e4e"></div><div class="b" style="left:0px;top:5.3px;width:93.2px;height:16.3px;background:#f0f0f0"></div><div class="t" style="left:2.50px;top:15.65px;font-size:6.2px;line-height:6.2px;color:#6e6e6e;transform:scaleX(0.900);transform-origin:0 0;">Total:</div><div class="t" style="left:17.14px;top:14.97px;font-size:7.0px;line-height:7.0px;color:#333;font-weight:bold;letter-spacing:0.300px;">9</div><div class="t" style="left:26.43px;top:15.65px;font-size:6.2px;line-height:6.2px;color:#6e6e6e;transform:scaleX(0.900);transform-origin:0 0;">Percent:</div><div class="t" style="left:48.81px;top:14.97px;font-size:7.0px;line-height:7.0px;color:#333;font-weight:bold;letter-spacing:0.300px;">5.52%</div><div class="clip" style="left:0;top:21.6px;width:100%;height:68.2px"><div class="b" style="left:2px;top:1.6px;width:89.1px;height:10.9px;background:#fef0ec;border:0.6px solid rgba(255,255,255,0.3);border-radius:1.2px"></div><svg class="b" style="left:3.90px;top:3.50px" width="4.8" height="7.2" viewBox="0 0 4.8 7.2"><g fill="#f2f2f2" stroke="#cdcdcd" stroke-width="0.5"><rect x="0.3" y="0.3" width="1.6" height="1.3"/><rect x="2.7" y="0.3" width="1.6" height="1.3"/><rect x="0.3" y="2.1" width="1.6" height="1.3"/><rect x="2.7" y="2.1" width="1.6" height="1.3"/><rect x="0.3" y="3.9" width="1.6" height="1.3"/><rect x="2.7" y="3.9" width="1.6" height="1.3"/><rect x="0.3" y="5.7" width="1.6" height="1.3"/><rect x="2.7" y="5.7" width="1.6" height="1.3"/></g></svg><div class="t" style="left:10.20px;top:4.74px;font-size:6.8px;line-height:6.8px;color:#333;transform:scaleX(0.850);transform-origin:0 0;">Josephine Miller</div><div class="b" style="left:2px;top:13.6px;width:89.1px;height:10.9px;background:#fef0ec;border:0.6px solid rgba(255,255,255,0.3);border-radius:1.2px"></div><svg class="b" style="left:3.90px;top:15.50px" width="4.8" height="7.2" viewBox="0 0 4.8 7.2"><g fill="#f2f2f2" stroke="#cdcdcd" stroke-width="0.5"><rect x="0.3" y="0.3" width="1.6" height="1.3"/><rect x="2.7" y="0.3" width="1.6" height="1.3"/><rect x="0.3" y="2.1" width="1.6" height="1.3"/><rect x="2.7" y="2.1" width="1.6" height="1.3"/><rect x="0.3" y="3.9" width="1.6" height="1.3"/><rect x="2.7" y="3.9" width="1.6" height="1.3"/><rect x="0.3" y="5.7" width="1.6" height="1.3"/><rect x="2.7" y="5.7" width="1.6" height="1.3"/></g></svg><div class="t" style="left:10.20px;top:16.74px;font-size:6.8px;line-height:6.8px;color:#333;transform:scaleX(0.850);transform-origin:0 0;">Christine West</div><div class="b" style="left:2px;top:25.6px;width:89.1px;height:10.9px;background:#fef0ec;border:0.6px solid rgba(255,255,255,0.3);border-radius:1.2px"></div><svg class="b" style="left:3.90px;top:27.50px" width="4.8" height="7.2" viewBox="0 0 4.8 7.2"><g fill="#f2f2f2" stroke="#cdcdcd" stroke-width="0.5"><rect x="0.3" y="0.3" width="1.6" height="1.3"/><rect x="2.7" y="0.3" width="1.6" height="1.3"/><rect x="0.3" y="2.1" width="1.6" height="1.3"/><rect x="2.7" y="2.1" width="1.6" height="1.3"/><rect x="0.3" y="3.9" width="1.6" height="1.3"/><rect x="2.7" y="3.9" width="1.6" height="1.3"/><rect x="0.3" y="5.7" width="1.6" height="1.3"/><rect x="2.7" y="5.7" width="1.6" height="1.3"/></g></svg><div class="t" style="left:10.20px;top:28.74px;font-size:6.8px;line-height:6.8px;color:#333;transform:scaleX(0.850);transform-origin:0 0;">Valerie Ramsay</div><div class="b" style="left:2px;top:37.6px;width:89.1px;height:10.9px;background:#fef0ec;border:0.6px solid rgba(255,255,255,0.3);border-radius:1.2px"></div><svg class="b" style="left:3.90px;top:39.50px" width="4.8" height="7.2" viewBox="0 0 4.8 7.2"><g fill="#f2f2f2" stroke="#cdcdcd" stroke-width="0.5"><rect x="0.3" y="0.3" width="1.6" height="1.3"/><rect x="2.7" y="0.3" width="1.6" height="1.3"/><rect x="0.3" y="2.1" width="1.6" height="1.3"/><rect x="2.7" y="2.1" width="1.6" height="1.3"/><rect x="0.3" y="3.9" width="1.6" height="1.3"/><rect x="2.7" y="3.9" width="1.6" height="1.3"/><rect x="0.3" y="5.7" width="1.6" height="1.3"/><rect x="2.7" y="5.7" width="1.6" height="1.3"/></g></svg><div class="t" style="left:10.20px;top:40.74px;font-size:6.8px;line-height:6.8px;color:#333;transform:scaleX(0.850);transform-origin:0 0;">Jamie Kramer</div><svg class="b" style="left:71.40px;top:38.70px" width="8.7" height="8.7" viewBox="0 0 8 8"><rect width="8" height="8" rx="0.7" fill="#ea7e10"/><path d="M4.5 1.4 H2.3 V6.6 H4.5" fill="none" stroke="rgba(255,255,255,0.5)" stroke-width="0.8"/><path d="M1 3.8 H3.3" stroke="rgba(255,255,255,0.5)" stroke-width="0.7"/><path d="M4.2 2.2 L6.5 1.1 V6.6 L4.2 6.8Z" fill="#fff"/></svg></div><div class="b" style="left:4.6px;top:93.5px;width:5.7px;height:5.9px;background:#fff"></div><svg class="b" style="left:5.4px;top:94.3px" width="4.2" height="4.4" viewBox="0 0 4.2 4.4"><path d="M2.1 0.3L0.5 2.1H1.5V3.3H2.7V2.1H3.7Z M0.4 3.7H3.8V4.3H0.4Z" fill="#8a8a8a"/></svg><div class="t" style="left:71.20px;top:93.91px;font-size:6.6px;line-height:6.6px;color:#555;transform:scaleX(0.939);transform-origin:0 0;">See All</div></div><div class="cell" style="left:614.6px;top:369.0px;width:93.2px;height:102.2px;background:#fde2da"><div class="b" style="left:0px;top:0px;width:93.2px;height:5.3px;background:#f6997e"></div><div class="b" style="left:0px;top:5.3px;width:93.2px;height:16.3px;background:#f0f0f0"></div><div class="t" style="left:2.50px;top:15.65px;font-size:6.2px;line-height:6.2px;color:#6e6e6e;transform:scaleX(0.900);transform-origin:0 0;">Total:</div><div class="t" style="left:17.14px;top:14.97px;font-size:7.0px;line-height:7.0px;color:#333;font-weight:bold;letter-spacing:0.300px;">1</div><div class="t" style="left:26.43px;top:15.65px;font-size:6.2px;line-height:6.2px;color:#6e6e6e;transform:scaleX(0.900);transform-origin:0 0;">Percent:</div><div class="t" style="left:48.81px;top:14.97px;font-size:7.0px;line-height:7.0px;color:#333;font-weight:bold;letter-spacing:0.300px;">0.61%</div><div class="clip" style="left:0;top:21.6px;width:100%;height:68.2px"><div class="b" style="left:2px;top:1.6px;width:89.1px;height:10.9px;background:#fef1ec;border:0.6px solid rgba(255,255,255,0.3);border-radius:1.2px"></div><svg class="b" style="left:3.90px;top:3.50px" width="4.8" height="7.2" viewBox="0 0 4.8 7.2"><g fill="#f2f2f2" stroke="#cdcdcd" stroke-width="0.5"><rect x="0.3" y="0.3" width="1.6" height="1.3"/><rect x="2.7" y="0.3" width="1.6" height="1.3"/><rect x="0.3" y="2.1" width="1.6" height="1.3"/><rect x="2.7" y="2.1" width="1.6" height="1.3"/><rect x="0.3" y="3.9" width="1.6" height="1.3"/><rect x="2.7" y="3.9" width="1.6" height="1.3"/><rect x="0.3" y="5.7" width="1.6" height="1.3"/><rect x="2.7" y="5.7" width="1.6" height="1.3"/></g></svg><div class="t" style="left:10.20px;top:4.74px;font-size:6.8px;line-height:6.8px;color:#333;transform:scaleX(0.850);transform-origin:0 0;">Genevieve Phipps</div></div><div class="b" style="left:4.6px;top:93.5px;width:5.7px;height:5.9px;background:#fff"></div><svg class="b" style="left:5.4px;top:94.3px" width="4.2" height="4.4" viewBox="0 0 4.2 4.4"><path d="M2.1 0.3L0.5 2.1H1.5V3.3H2.7V2.1H3.7Z M0.4 3.7H3.8V4.3H0.4Z" fill="#8a8a8a"/></svg><div class="t" style="left:71.20px;top:93.91px;font-size:6.6px;line-height:6.6px;color:#555;transform:scaleX(0.939);transform-origin:0 0;">See All</div></div></div></div>
<div class="b" style="left:941.3px;top:107.2px;width:8.5px;height:331.4px;background:#f0f0f0"></div>
<div class="b" style="left:943.5px;top:110.6px;width:0px;height:0px;border-left:2.1px solid transparent;border-right:2.1px solid transparent;border-bottom:2.3px solid #a0a0a0"></div>
<div class="b" style="left:942.4px;top:115.9px;width:6.4px;height:219.8px;background:#c1c1c1"></div>
<div class="b" style="left:943.5px;top:433px;width:0px;height:0px;border-left:2.1px solid transparent;border-right:2.1px solid transparent;border-top:2.3px solid #505050"></div>
<div class="b" style="left:0px;top:461.5px;width:960px;height:23.5px;background:#f5f5f5;border-top:1px solid #dcdcdc"></div>
<svg class="b" style="left:6.8px;top:470.1px" width="7.5" height="7.5" viewBox="0 0 8 8"><circle cx="4" cy="4" r="3.3" fill="#fff" stroke="#2e8b2e" stroke-width="1.3"/><path d="M1.9 4 L4.3 1.8 V3.2 H6.1 V4.8 H4.3 V6.2Z" fill="#2e8b2e"/></svg>
<div class="t" style="left:16.70px;top:470.86px;font-size:6.9px;line-height:6.9px;color:#2a6ebb;transform:scaleX(0.906);transform-origin:0 0;">Back to List</div>
<div class="b" style="left:634.1px;top:467.3px;width:47.10000000000002px;height:12.3px;background:linear-gradient(#ffffff,#eeeeee);border:0.7px solid #bdbdbd;border-radius:2px"></div><svg class="b" style="left:637px;top:469.9px" width="8" height="7" viewBox="0 0 8 7"><rect x="0" y="0" width="8" height="7" rx="0.6" fill="#6890cf"/><rect x="0" y="0" width="8" height="1.2" rx="0.4" fill="#2352a8"/><rect x="1.1" y="2" width="0.8" height="3.6" fill="#dfe8f6"/><rect x="1.9" y="1.6" width="4.6" height="4.6" fill="#7c9fd6"/><circle cx="6.4" cy="3.3" r="0.45" fill="#fff"/><circle cx="6.4" cy="5" r="0.45" fill="#fff"/></svg><div class="t" style="left:647.80px;top:470.76px;font-size:6.9px;line-height:6.9px;color:#555;transform:scaleX(0.852);transform-origin:0 0;">Grid Layout</div>
<div class="b" style="left:687.2px;top:467.3px;width:65.19999999999993px;height:12.3px;background:linear-gradient(#ffffff,#eeeeee);border:0.7px solid #bdbdbd;border-radius:2px"></div><svg class="b" style="left:690.4px;top:470.6px" width="7" height="5.6" viewBox="0 0 7 5.6"><path d="M0.3 5.3 Q0.8 2.2 4 2 V0.3 L6.8 2.8 L4 5.2 V3.6 Q1.8 3.6 0.3 5.3Z" fill="#2b4d8c"/></svg><div class="t" style="left:700.70px;top:470.76px;font-size:6.9px;line-height:6.9px;color:#555;transform:scaleX(0.820);transform-origin:0 0;">Publish Results</div><div class="b" style="left:742.5px;top:467.3px;width:0.7px;height:12.3px;background:#cbcbcb"></div><div class="b" style="left:745.6px;top:471.8px;width:0px;height:0px;border-left:2.1px solid transparent;border-right:2.1px solid transparent;border-bottom:2.5px solid #333"></div>
<div class="b" style="left:758.4px;top:467.3px;width:46.39999999999998px;height:12.3px;background:linear-gradient(#ffffff,#eeeeee);border:0.7px solid #bdbdbd;border-radius:2px"></div><svg class="b" style="left:762.3px;top:469.3px" width="6.5" height="8.3" viewBox="0 0 6.5 8.3"><path d="M4.3 0 L0.5 4.6 H3 L2 8.3 L6 3.4 H3.6Z" fill="#2b5fad"/></svg><div class="t" style="left:772.00px;top:470.76px;font-size:6.9px;line-height:6.9px;color:#555;transform:scaleX(0.853);transform-origin:0 0;">Actions</div><div class="b" style="left:794.4px;top:467.3px;width:0.7px;height:12.3px;background:#cbcbcb"></div><div class="b" style="left:797.5px;top:471.8px;width:0px;height:0px;border-left:2.1px solid transparent;border-right:2.1px solid transparent;border-bottom:2.5px solid #333"></div>
<div class="b" style="left:810.7px;top:467.3px;width:31.899999999999977px;height:12.3px;background:linear-gradient(#ffffff,#eeeeee);border:0.7px solid #bdbdbd;border-radius:2px"></div><svg class="b" style="left:813px;top:469.2px" width="8.5" height="8.5" viewBox="0 0 8.5 8.5"><rect x="0.4" y="0.4" width="5.8" height="4.6" fill="#fff" stroke="#3a6db5" stroke-width="0.7"/><path d="M1.5 5 L1.5 6.4 L3 5" fill="#3a6db5"/><circle cx="6" cy="6" r="2.3" fill="#3f9a2f"/><circle cx="6" cy="6" r="1" fill="#fff"/></svg><div class="t" style="left:823.90px;top:470.76px;font-size:6.9px;line-height:6.9px;color:#555;transform:scaleX(0.849);transform-origin:0 0;">Notes</div>
<div class="b" style="left:848.3px;top:467.3px;width:28.90000000000009px;height:12.3px;background:linear-gradient(#ffffff,#eeeeee);border:0.7px solid #bdbdbd;border-radius:2px"></div><svg class="b" style="left:851.3px;top:469.4px" width="8.6" height="8" viewBox="0 0 8.6 8"><rect x="2.1" y="0.3" width="4.4" height="2.4" fill="#fff" stroke="#2b5fad" stroke-width="0.6"/><rect x="0.3" y="2.4" width="8" height="3.6" rx="1" fill="#2b5fad"/><rect x="2.1" y="5" width="4.4" height="2.7" fill="#fff" stroke="#2b5fad" stroke-width="0.6"/></svg><div class="t" style="left:861.80px;top:470.76px;font-size:6.9px;line-height:6.9px;color:#555;transform:scaleX(0.888);transform-origin:0 0;">Print</div>
<div class="b" style="left:883.3px;top:467.3px;width:33.90000000000009px;height:12.3px;background:linear-gradient(#ffffff,#eeeeee);border:0.7px solid #bdbdbd;border-radius:2px"></div><svg class="b" style="left:885.7px;top:469.3px" width="8.1" height="8.1" viewBox="0 0 8 8"><circle cx="4" cy="4" r="3.8" fill="#c0242a"/><path d="M2.4 5.6 L5.6 2.4" stroke="#fff" stroke-width="1.2"/></svg><div class="t" style="left:896.50px;top:470.76px;font-size:6.9px;line-height:6.9px;color:#555;transform:scaleX(0.829);transform-origin:0 0;">Cancel</div>
<div class="b" style="left:922.5px;top:467.3px;width:29.100000000000023px;height:12.3px;background:linear-gradient(#ffffff,#eeeeee);border:0.7px solid #bdbdbd;border-radius:2px"></div><svg class="b" style="left:926.1px;top:469.7px" width="7.2" height="7.2" viewBox="0 0 7 7"><path d="M0.3 0.3H5.5L6.7 1.5V6.7H0.3Z" fill="#2b4d8c"/><rect x="1.6" y="0.3" width="3.4" height="2.1" fill="#fff"/><rect x="1.5" y="4" width="4" height="2.7" fill="#e0e6f2"/></svg><div class="t" style="left:935.80px;top:470.76px;font-size:6.9px;line-height:6.9px;color:#555;transform:scaleX(0.820);transform-origin:0 0;">Save</div></body></html>
